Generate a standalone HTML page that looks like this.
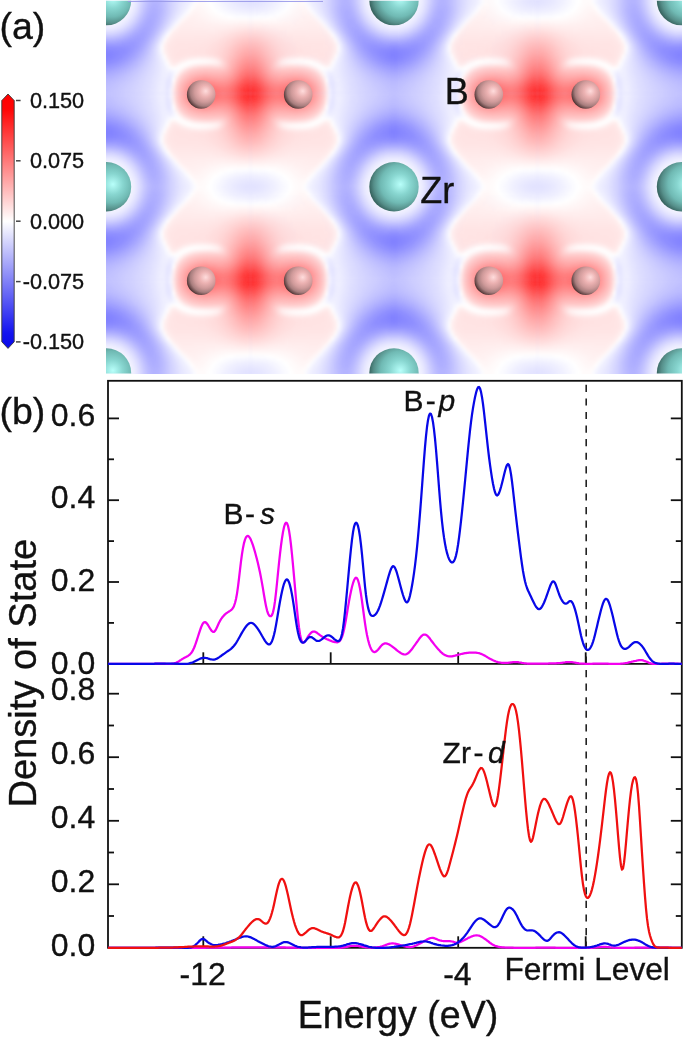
<!DOCTYPE html>
<html lang="en"><head><meta charset="utf-8"><title>Figure</title>
<style>
html,body{margin:0;padding:0;background:#fff;}
body{width:685px;height:1041px;overflow:hidden;font-family:"Liberation Sans", Arial, Helvetica, sans-serif;}
svg{display:block;}
text{font-family:"Liberation Sans", Arial, Helvetica, sans-serif;fill:#111;stroke:#111;stroke-width:0.35px;}
</style></head><body>
<svg width="685" height="1041" viewBox="0 0 685 1041">
<defs>
<clipPath id="hm"><rect x="106" y="0.8" width="576" height="372.6"/></clipPath>
<filter id="b15" x="-5%" y="-5%" width="110%" height="110%"><feGaussianBlur stdDeviation="1.4"/></filter>
<filter id="b2" x="-30%" y="-30%" width="160%" height="160%"><feGaussianBlur stdDeviation="2"/></filter>
<filter id="b3" x="-30%" y="-30%" width="160%" height="160%"><feGaussianBlur stdDeviation="3"/></filter>
<filter id="b4" x="-30%" y="-30%" width="160%" height="160%"><feGaussianBlur stdDeviation="4"/></filter>
<filter id="b6" x="-30%" y="-30%" width="160%" height="160%"><feGaussianBlur stdDeviation="6"/></filter>
<filter id="b8" x="-40%" y="-40%" width="180%" height="180%"><feGaussianBlur stdDeviation="8"/></filter>
<filter id="b10" x="-50%" y="-50%" width="200%" height="200%"><feGaussianBlur stdDeviation="10"/></filter>
<filter id="b14" x="-50%" y="-50%" width="200%" height="200%"><feGaussianBlur stdDeviation="14"/></filter>
<radialGradient id="gZr" cx="0.60" cy="0.44" r="0.66" fx="0.63" fy="0.45">
<stop offset="0" stop-color="#b8fffa"/><stop offset="0.32" stop-color="#88d6d0"/><stop offset="0.58" stop-color="#70bab4"/><stop offset="0.78" stop-color="#568f8a"/><stop offset="0.92" stop-color="#37635f"/><stop offset="1" stop-color="#1e3c39"/>
</radialGradient>
<radialGradient id="gB" cx="0.62" cy="0.40" r="0.68" fx="0.66" fy="0.38">
<stop offset="0" stop-color="#ffdcdc"/><stop offset="0.3" stop-color="#ecb2b2"/><stop offset="0.55" stop-color="#cf9a9a"/><stop offset="0.75" stop-color="#a87e7e"/><stop offset="0.9" stop-color="#664848"/><stop offset="1" stop-color="#2a1818"/>
</radialGradient>
<linearGradient id="cb" x1="0" y1="0" x2="0" y2="1">
<stop offset="0" stop-color="#ff0000"/><stop offset="0.06" stop-color="#ff0606"/><stop offset="0.5" stop-color="#ffffff"/><stop offset="0.94" stop-color="#1414f0"/><stop offset="1" stop-color="#0a0ae6"/>
</linearGradient>
</defs>
<rect width="685" height="1041" fill="#fff"/>

<g clip-path="url(#hm)">
<defs><g id="q">
<rect x="0" y="0" width="3.6" height="3.6" fill="#ff2f2f"/>
<rect x="3" y="0" width="3.6" height="3.6" fill="#ff3434"/>
<rect x="6" y="0" width="3.6" height="3.6" fill="#ff3d3d"/>
<rect x="9" y="0" width="3.6" height="3.6" fill="#ff4949"/>
<rect x="12" y="0" width="3.6" height="3.6" fill="#ff5757"/>
<rect x="15" y="0" width="3.6" height="3.6" fill="#ff6464"/>
<rect x="18" y="0" width="3.6" height="3.6" fill="#ff6e6e"/>
<rect x="21" y="0" width="3.6" height="3.6" fill="#ff7575"/>
<rect x="24" y="0" width="6.6" height="3.6" fill="#ff7979"/>
<rect x="30" y="0" width="3.6" height="3.6" fill="#ff7676"/>
<rect x="33" y="0" width="3.6" height="3.6" fill="#ff7171"/>
<rect x="36" y="0" width="3.6" height="3.6" fill="#ff6c6c"/>
<rect x="39" y="0" width="3.6" height="3.6" fill="#ff6767"/>
<rect x="42" y="0" width="3.6" height="3.6" fill="#ff6464"/>
<rect x="45" y="0" width="3.6" height="3.6" fill="#ff6363"/>
<rect x="48" y="0" width="3.6" height="3.6" fill="#ff6666"/>
<rect x="51" y="0" width="3.6" height="3.6" fill="#ff6c6c"/>
<rect x="54" y="0" width="3.6" height="3.6" fill="#ff7676"/>
<rect x="57" y="0" width="3.6" height="3.6" fill="#ff8282"/>
<rect x="60" y="0" width="3.6" height="3.6" fill="#ff9090"/>
<rect x="63" y="0" width="3.6" height="3.6" fill="#ff9f9f"/>
<rect x="66" y="0" width="3.6" height="3.6" fill="#ffadad"/>
<rect x="69" y="0" width="3.6" height="3.6" fill="#ffbbbb"/>
<rect x="72" y="0" width="3.6" height="3.6" fill="#ffcdcd"/>
<rect x="75" y="0" width="3.6" height="3.6" fill="#ffe8e8"/>
<rect x="78" y="0" width="3.6" height="3.6" fill="#f4f4ff"/>
<rect x="81" y="0" width="3.6" height="3.6" fill="#e6e6ff"/>
<rect x="84" y="0" width="3.6" height="3.6" fill="#ededff"/>
<rect x="87" y="0" width="3.6" height="3.6" fill="#efefff"/>
<rect x="90" y="0" width="3.6" height="3.6" fill="#ececff"/>
<rect x="93" y="0" width="3.6" height="3.6" fill="#e8e8ff"/>
<rect x="96" y="0" width="3.6" height="3.6" fill="#e4e4ff"/>
<rect x="99" y="0" width="3.6" height="3.6" fill="#e1e1ff"/>
<rect x="102" y="0" width="3.6" height="3.6" fill="#dedeff"/>
<rect x="105" y="0" width="3.6" height="3.6" fill="#dbdbff"/>
<rect x="108" y="0" width="3.6" height="3.6" fill="#d8d8ff"/>
<rect x="111" y="0" width="3.6" height="3.6" fill="#d6d6ff"/>
<rect x="114" y="0" width="3.6" height="3.6" fill="#d3d3ff"/>
<rect x="117" y="0" width="3.6" height="3.6" fill="#d1d1ff"/>
<rect x="120" y="0" width="3.6" height="3.6" fill="#cfcfff"/>
<rect x="123" y="0" width="3.6" height="3.6" fill="#cdcdff"/>
<rect x="126" y="0" width="3.6" height="3.6" fill="#cbcbff"/>
<rect x="129" y="0" width="3.6" height="3.6" fill="#c8c8ff"/>
<rect x="132" y="0" width="3.6" height="3.6" fill="#c6c6ff"/>
<rect x="135" y="0" width="3.6" height="3.6" fill="#c4c4ff"/>
<rect x="138" y="0" width="3.6" height="3.6" fill="#c3c3ff"/>
<rect x="141" y="0" width="6.6" height="3.6" fill="#c1c1ff"/>
<rect x="0" y="3" width="3.6" height="3.6" fill="#ff3333"/>
<rect x="3" y="3" width="3.6" height="3.6" fill="#ff3838"/>
<rect x="6" y="3" width="3.6" height="3.6" fill="#ff4141"/>
<rect x="9" y="3" width="3.6" height="3.6" fill="#ff4d4d"/>
<rect x="12" y="3" width="3.6" height="3.6" fill="#ff5b5b"/>
<rect x="15" y="3" width="3.6" height="3.6" fill="#ff6868"/>
<rect x="18" y="3" width="3.6" height="3.6" fill="#ff7272"/>
<rect x="21" y="3" width="3.6" height="3.6" fill="#ff7979"/>
<rect x="24" y="3" width="6.6" height="3.6" fill="#ff7d7d"/>
<rect x="30" y="3" width="3.6" height="3.6" fill="#ff7b7b"/>
<rect x="33" y="3" width="3.6" height="3.6" fill="#ff7676"/>
<rect x="36" y="3" width="3.6" height="3.6" fill="#ff7171"/>
<rect x="39" y="3" width="3.6" height="3.6" fill="#ff6c6c"/>
<rect x="42" y="3" width="3.6" height="3.6" fill="#ff6969"/>
<rect x="45" y="3" width="3.6" height="3.6" fill="#ff6868"/>
<rect x="48" y="3" width="3.6" height="3.6" fill="#ff6b6b"/>
<rect x="51" y="3" width="3.6" height="3.6" fill="#ff7171"/>
<rect x="54" y="3" width="3.6" height="3.6" fill="#ff7a7a"/>
<rect x="57" y="3" width="3.6" height="3.6" fill="#ff8686"/>
<rect x="60" y="3" width="3.6" height="3.6" fill="#ff9393"/>
<rect x="63" y="3" width="3.6" height="3.6" fill="#ffa1a1"/>
<rect x="66" y="3" width="3.6" height="3.6" fill="#ffafaf"/>
<rect x="69" y="3" width="3.6" height="3.6" fill="#ffbdbd"/>
<rect x="72" y="3" width="3.6" height="3.6" fill="#ffcece"/>
<rect x="75" y="3" width="3.6" height="3.6" fill="#ffeaea"/>
<rect x="78" y="3" width="3.6" height="3.6" fill="#f0f0ff"/>
<rect x="81" y="3" width="3.6" height="3.6" fill="#e5e5ff"/>
<rect x="84" y="3" width="3.6" height="3.6" fill="#ececff"/>
<rect x="87" y="3" width="3.6" height="3.6" fill="#efefff"/>
<rect x="90" y="3" width="3.6" height="3.6" fill="#ebebff"/>
<rect x="93" y="3" width="3.6" height="3.6" fill="#e7e7ff"/>
<rect x="96" y="3" width="3.6" height="3.6" fill="#e3e3ff"/>
<rect x="99" y="3" width="3.6" height="3.6" fill="#e0e0ff"/>
<rect x="102" y="3" width="3.6" height="3.6" fill="#ddddff"/>
<rect x="105" y="3" width="3.6" height="3.6" fill="#dadaff"/>
<rect x="108" y="3" width="3.6" height="3.6" fill="#d8d8ff"/>
<rect x="111" y="3" width="3.6" height="3.6" fill="#d5d5ff"/>
<rect x="114" y="3" width="3.6" height="3.6" fill="#d3d3ff"/>
<rect x="117" y="3" width="3.6" height="3.6" fill="#d0d0ff"/>
<rect x="120" y="3" width="3.6" height="3.6" fill="#ceceff"/>
<rect x="123" y="3" width="3.6" height="3.6" fill="#ccccff"/>
<rect x="126" y="3" width="3.6" height="3.6" fill="#c9c9ff"/>
<rect x="129" y="3" width="3.6" height="3.6" fill="#c7c7ff"/>
<rect x="132" y="3" width="3.6" height="3.6" fill="#c5c5ff"/>
<rect x="135" y="3" width="3.6" height="3.6" fill="#c3c3ff"/>
<rect x="138" y="3" width="3.6" height="3.6" fill="#c1c1ff"/>
<rect x="141" y="3" width="3.6" height="3.6" fill="#bfbfff"/>
<rect x="144" y="3" width="3.6" height="3.6" fill="#c0c0ff"/>
<rect x="0" y="6" width="3.6" height="3.6" fill="#ff3c3c"/>
<rect x="3" y="6" width="3.6" height="3.6" fill="#ff4141"/>
<rect x="6" y="6" width="3.6" height="3.6" fill="#ff4a4a"/>
<rect x="9" y="6" width="3.6" height="3.6" fill="#ff5656"/>
<rect x="12" y="6" width="3.6" height="3.6" fill="#ff6363"/>
<rect x="15" y="6" width="3.6" height="3.6" fill="#ff6f6f"/>
<rect x="18" y="6" width="3.6" height="3.6" fill="#ff7a7a"/>
<rect x="21" y="6" width="3.6" height="3.6" fill="#ff8181"/>
<rect x="24" y="6" width="3.6" height="3.6" fill="#ff8585"/>
<rect x="27" y="6" width="3.6" height="3.6" fill="#ff8686"/>
<rect x="30" y="6" width="3.6" height="3.6" fill="#ff8484"/>
<rect x="33" y="6" width="3.6" height="3.6" fill="#ff8080"/>
<rect x="36" y="6" width="3.6" height="3.6" fill="#ff7b7b"/>
<rect x="39" y="6" width="3.6" height="3.6" fill="#ff7777"/>
<rect x="42" y="6" width="3.6" height="3.6" fill="#ff7474"/>
<rect x="45" y="6" width="3.6" height="3.6" fill="#ff7373"/>
<rect x="48" y="6" width="3.6" height="3.6" fill="#ff7676"/>
<rect x="51" y="6" width="3.6" height="3.6" fill="#ff7b7b"/>
<rect x="54" y="6" width="3.6" height="3.6" fill="#ff8383"/>
<rect x="57" y="6" width="3.6" height="3.6" fill="#ff8e8e"/>
<rect x="60" y="6" width="3.6" height="3.6" fill="#ff9a9a"/>
<rect x="63" y="6" width="3.6" height="3.6" fill="#ffa6a6"/>
<rect x="66" y="6" width="3.6" height="3.6" fill="#ffb3b3"/>
<rect x="69" y="6" width="3.6" height="3.6" fill="#ffc0c0"/>
<rect x="72" y="6" width="3.6" height="3.6" fill="#ffd2d2"/>
<rect x="75" y="6" width="3.6" height="3.6" fill="#ffefef"/>
<rect x="78" y="6" width="3.6" height="3.6" fill="#ececff"/>
<rect x="81" y="6" width="3.6" height="3.6" fill="#e4e4ff"/>
<rect x="84" y="6" width="3.6" height="3.6" fill="#ececff"/>
<rect x="87" y="6" width="3.6" height="3.6" fill="#eeeeff"/>
<rect x="90" y="6" width="3.6" height="3.6" fill="#ebebff"/>
<rect x="93" y="6" width="3.6" height="3.6" fill="#e6e6ff"/>
<rect x="96" y="6" width="3.6" height="3.6" fill="#e3e3ff"/>
<rect x="99" y="6" width="3.6" height="3.6" fill="#dfdfff"/>
<rect x="102" y="6" width="3.6" height="3.6" fill="#dcdcff"/>
<rect x="105" y="6" width="3.6" height="3.6" fill="#dadaff"/>
<rect x="108" y="6" width="3.6" height="3.6" fill="#d7d7ff"/>
<rect x="111" y="6" width="3.6" height="3.6" fill="#d4d4ff"/>
<rect x="114" y="6" width="3.6" height="3.6" fill="#d2d2ff"/>
<rect x="117" y="6" width="3.6" height="3.6" fill="#cfcfff"/>
<rect x="120" y="6" width="3.6" height="3.6" fill="#cdcdff"/>
<rect x="123" y="6" width="3.6" height="3.6" fill="#cacaff"/>
<rect x="126" y="6" width="3.6" height="3.6" fill="#c8c8ff"/>
<rect x="129" y="6" width="3.6" height="3.6" fill="#c6c6ff"/>
<rect x="132" y="6" width="3.6" height="3.6" fill="#c3c3ff"/>
<rect x="135" y="6" width="3.6" height="3.6" fill="#c1c1ff"/>
<rect x="138" y="6" width="3.6" height="3.6" fill="#bfbfff"/>
<rect x="141" y="6" width="6.6" height="3.6" fill="#bebeff"/>
<rect x="0" y="9" width="3.6" height="3.6" fill="#ff4848"/>
<rect x="3" y="9" width="3.6" height="3.6" fill="#ff4d4d"/>
<rect x="6" y="9" width="3.6" height="3.6" fill="#ff5555"/>
<rect x="9" y="9" width="3.6" height="3.6" fill="#ff6161"/>
<rect x="12" y="9" width="3.6" height="3.6" fill="#ff6e6e"/>
<rect x="15" y="9" width="3.6" height="3.6" fill="#ff7a7a"/>
<rect x="18" y="9" width="3.6" height="3.6" fill="#ff8484"/>
<rect x="21" y="9" width="3.6" height="3.6" fill="#ff8b8b"/>
<rect x="24" y="9" width="3.6" height="3.6" fill="#ff9090"/>
<rect x="27" y="9" width="3.6" height="3.6" fill="#ff9191"/>
<rect x="30" y="9" width="3.6" height="3.6" fill="#ff9090"/>
<rect x="33" y="9" width="3.6" height="3.6" fill="#ff8d8d"/>
<rect x="36" y="9" width="3.6" height="3.6" fill="#ff8989"/>
<rect x="39" y="9" width="3.6" height="3.6" fill="#ff8585"/>
<rect x="42" y="9" width="6.6" height="3.6" fill="#ff8282"/>
<rect x="48" y="9" width="3.6" height="3.6" fill="#ff8484"/>
<rect x="51" y="9" width="3.6" height="3.6" fill="#ff8989"/>
<rect x="54" y="9" width="3.6" height="3.6" fill="#ff9090"/>
<rect x="57" y="9" width="3.6" height="3.6" fill="#ff9999"/>
<rect x="60" y="9" width="3.6" height="3.6" fill="#ffa3a3"/>
<rect x="63" y="9" width="3.6" height="3.6" fill="#ffaeae"/>
<rect x="66" y="9" width="3.6" height="3.6" fill="#ffb9b9"/>
<rect x="69" y="9" width="3.6" height="3.6" fill="#ffc6c6"/>
<rect x="72" y="9" width="3.6" height="3.6" fill="#ffd8d8"/>
<rect x="75" y="9" width="3.6" height="3.6" fill="#fff6f6"/>
<rect x="78" y="9" width="3.6" height="3.6" fill="#e9e9ff"/>
<rect x="81" y="9" width="3.6" height="3.6" fill="#e4e4ff"/>
<rect x="84" y="9" width="3.6" height="3.6" fill="#ececff"/>
<rect x="87" y="9" width="3.6" height="3.6" fill="#ededff"/>
<rect x="90" y="9" width="3.6" height="3.6" fill="#eaeaff"/>
<rect x="93" y="9" width="3.6" height="3.6" fill="#e6e6ff"/>
<rect x="96" y="9" width="3.6" height="3.6" fill="#e2e2ff"/>
<rect x="99" y="9" width="3.6" height="3.6" fill="#dfdfff"/>
<rect x="102" y="9" width="3.6" height="3.6" fill="#dcdcff"/>
<rect x="105" y="9" width="3.6" height="3.6" fill="#d9d9ff"/>
<rect x="108" y="9" width="3.6" height="3.6" fill="#d6d6ff"/>
<rect x="111" y="9" width="3.6" height="3.6" fill="#d3d3ff"/>
<rect x="114" y="9" width="3.6" height="3.6" fill="#d0d0ff"/>
<rect x="117" y="9" width="3.6" height="3.6" fill="#ceceff"/>
<rect x="120" y="9" width="3.6" height="3.6" fill="#cbcbff"/>
<rect x="123" y="9" width="3.6" height="3.6" fill="#c8c8ff"/>
<rect x="126" y="9" width="3.6" height="3.6" fill="#c6c6ff"/>
<rect x="129" y="9" width="3.6" height="3.6" fill="#c3c3ff"/>
<rect x="132" y="9" width="3.6" height="3.6" fill="#c1c1ff"/>
<rect x="135" y="9" width="3.6" height="3.6" fill="#bfbfff"/>
<rect x="138" y="9" width="3.6" height="3.6" fill="#bdbdff"/>
<rect x="141" y="9" width="6.6" height="3.6" fill="#bbbbff"/>
<rect x="0" y="12" width="3.6" height="3.6" fill="#ff5555"/>
<rect x="3" y="12" width="3.6" height="3.6" fill="#ff5959"/>
<rect x="6" y="12" width="3.6" height="3.6" fill="#ff6262"/>
<rect x="9" y="12" width="3.6" height="3.6" fill="#ff6d6d"/>
<rect x="12" y="12" width="3.6" height="3.6" fill="#ff7979"/>
<rect x="15" y="12" width="3.6" height="3.6" fill="#ff8585"/>
<rect x="18" y="12" width="3.6" height="3.6" fill="#ff8f8f"/>
<rect x="21" y="12" width="3.6" height="3.6" fill="#ff9797"/>
<rect x="24" y="12" width="3.6" height="3.6" fill="#ff9b9b"/>
<rect x="27" y="12" width="6.6" height="3.6" fill="#ff9d9d"/>
<rect x="33" y="12" width="3.6" height="3.6" fill="#ff9b9b"/>
<rect x="36" y="12" width="3.6" height="3.6" fill="#ff9898"/>
<rect x="39" y="12" width="3.6" height="3.6" fill="#ff9595"/>
<rect x="42" y="12" width="6.6" height="3.6" fill="#ff9393"/>
<rect x="48" y="12" width="3.6" height="3.6" fill="#ff9494"/>
<rect x="51" y="12" width="3.6" height="3.6" fill="#ff9898"/>
<rect x="54" y="12" width="3.6" height="3.6" fill="#ff9e9e"/>
<rect x="57" y="12" width="3.6" height="3.6" fill="#ffa5a5"/>
<rect x="60" y="12" width="3.6" height="3.6" fill="#ffaeae"/>
<rect x="63" y="12" width="3.6" height="3.6" fill="#ffb7b7"/>
<rect x="66" y="12" width="3.6" height="3.6" fill="#ffc1c1"/>
<rect x="69" y="12" width="3.6" height="3.6" fill="#ffcdcd"/>
<rect x="72" y="12" width="3.6" height="3.6" fill="#ffe1e1"/>
<rect x="75" y="12" width="3.6" height="3.6" fill="#fffefe"/>
<rect x="78" y="12" width="6.6" height="3.6" fill="#e6e6ff"/>
<rect x="84" y="12" width="6.6" height="3.6" fill="#ededff"/>
<rect x="90" y="12" width="3.6" height="3.6" fill="#e9e9ff"/>
<rect x="93" y="12" width="3.6" height="3.6" fill="#e5e5ff"/>
<rect x="96" y="12" width="3.6" height="3.6" fill="#e1e1ff"/>
<rect x="99" y="12" width="3.6" height="3.6" fill="#dedeff"/>
<rect x="102" y="12" width="3.6" height="3.6" fill="#dbdbff"/>
<rect x="105" y="12" width="3.6" height="3.6" fill="#d8d8ff"/>
<rect x="108" y="12" width="3.6" height="3.6" fill="#d5d5ff"/>
<rect x="111" y="12" width="3.6" height="3.6" fill="#d2d2ff"/>
<rect x="114" y="12" width="3.6" height="3.6" fill="#ceceff"/>
<rect x="117" y="12" width="3.6" height="3.6" fill="#cbcbff"/>
<rect x="120" y="12" width="3.6" height="3.6" fill="#c8c8ff"/>
<rect x="123" y="12" width="3.6" height="3.6" fill="#c5c5ff"/>
<rect x="126" y="12" width="3.6" height="3.6" fill="#c2c2ff"/>
<rect x="129" y="12" width="3.6" height="3.6" fill="#c0c0ff"/>
<rect x="132" y="12" width="3.6" height="3.6" fill="#bdbdff"/>
<rect x="135" y="12" width="3.6" height="3.6" fill="#bbbbff"/>
<rect x="138" y="12" width="3.6" height="3.6" fill="#b9b9ff"/>
<rect x="141" y="12" width="6.6" height="3.6" fill="#b7b7ff"/>
<rect x="0" y="15" width="3.6" height="3.6" fill="#ff6161"/>
<rect x="3" y="15" width="3.6" height="3.6" fill="#ff6666"/>
<rect x="6" y="15" width="3.6" height="3.6" fill="#ff6d6d"/>
<rect x="9" y="15" width="3.6" height="3.6" fill="#ff7878"/>
<rect x="12" y="15" width="3.6" height="3.6" fill="#ff8484"/>
<rect x="15" y="15" width="3.6" height="3.6" fill="#ff9090"/>
<rect x="18" y="15" width="3.6" height="3.6" fill="#ff9a9a"/>
<rect x="21" y="15" width="3.6" height="3.6" fill="#ffa1a1"/>
<rect x="24" y="15" width="3.6" height="3.6" fill="#ffa6a6"/>
<rect x="27" y="15" width="6.6" height="3.6" fill="#ffa9a9"/>
<rect x="33" y="15" width="3.6" height="3.6" fill="#ffa8a8"/>
<rect x="36" y="15" width="3.6" height="3.6" fill="#ffa7a7"/>
<rect x="39" y="15" width="3.6" height="3.6" fill="#ffa5a5"/>
<rect x="42" y="15" width="6.6" height="3.6" fill="#ffa3a3"/>
<rect x="48" y="15" width="3.6" height="3.6" fill="#ffa5a5"/>
<rect x="51" y="15" width="3.6" height="3.6" fill="#ffa8a8"/>
<rect x="54" y="15" width="3.6" height="3.6" fill="#ffacac"/>
<rect x="57" y="15" width="3.6" height="3.6" fill="#ffb2b2"/>
<rect x="60" y="15" width="3.6" height="3.6" fill="#ffb9b9"/>
<rect x="63" y="15" width="3.6" height="3.6" fill="#ffc1c1"/>
<rect x="66" y="15" width="3.6" height="3.6" fill="#ffcaca"/>
<rect x="69" y="15" width="3.6" height="3.6" fill="#ffd7d7"/>
<rect x="72" y="15" width="3.6" height="3.6" fill="#ffeded"/>
<rect x="75" y="15" width="3.6" height="3.6" fill="#f8f8ff"/>
<rect x="78" y="15" width="3.6" height="3.6" fill="#e7e7ff"/>
<rect x="81" y="15" width="3.6" height="3.6" fill="#eaeaff"/>
<rect x="84" y="15" width="3.6" height="3.6" fill="#eeeeff"/>
<rect x="87" y="15" width="3.6" height="3.6" fill="#ececff"/>
<rect x="90" y="15" width="3.6" height="3.6" fill="#e8e8ff"/>
<rect x="93" y="15" width="3.6" height="3.6" fill="#e4e4ff"/>
<rect x="96" y="15" width="3.6" height="3.6" fill="#e1e1ff"/>
<rect x="99" y="15" width="3.6" height="3.6" fill="#ddddff"/>
<rect x="102" y="15" width="3.6" height="3.6" fill="#dadaff"/>
<rect x="105" y="15" width="3.6" height="3.6" fill="#d6d6ff"/>
<rect x="108" y="15" width="3.6" height="3.6" fill="#d3d3ff"/>
<rect x="111" y="15" width="3.6" height="3.6" fill="#cfcfff"/>
<rect x="114" y="15" width="3.6" height="3.6" fill="#ccccff"/>
<rect x="117" y="15" width="3.6" height="3.6" fill="#c8c8ff"/>
<rect x="120" y="15" width="3.6" height="3.6" fill="#c5c5ff"/>
<rect x="123" y="15" width="3.6" height="3.6" fill="#c1c1ff"/>
<rect x="126" y="15" width="3.6" height="3.6" fill="#bebeff"/>
<rect x="129" y="15" width="3.6" height="3.6" fill="#bbbbff"/>
<rect x="132" y="15" width="3.6" height="3.6" fill="#b8b8ff"/>
<rect x="135" y="15" width="3.6" height="3.6" fill="#b6b6ff"/>
<rect x="138" y="15" width="3.6" height="3.6" fill="#b3b3ff"/>
<rect x="141" y="15" width="3.6" height="3.6" fill="#b1b1ff"/>
<rect x="144" y="15" width="3.6" height="3.6" fill="#b2b2ff"/>
<rect x="0" y="18" width="3.6" height="3.6" fill="#ff6d6d"/>
<rect x="3" y="18" width="3.6" height="3.6" fill="#ff7171"/>
<rect x="6" y="18" width="3.6" height="3.6" fill="#ff7878"/>
<rect x="9" y="18" width="3.6" height="3.6" fill="#ff8282"/>
<rect x="12" y="18" width="3.6" height="3.6" fill="#ff8e8e"/>
<rect x="15" y="18" width="3.6" height="3.6" fill="#ff9999"/>
<rect x="18" y="18" width="3.6" height="3.6" fill="#ffa4a4"/>
<rect x="21" y="18" width="3.6" height="3.6" fill="#ffacac"/>
<rect x="24" y="18" width="3.6" height="3.6" fill="#ffb1b1"/>
<rect x="27" y="18" width="3.6" height="3.6" fill="#ffb4b4"/>
<rect x="30" y="18" width="6.6" height="3.6" fill="#ffb5b5"/>
<rect x="36" y="18" width="3.6" height="3.6" fill="#ffb4b4"/>
<rect x="39" y="18" width="3.6" height="3.6" fill="#ffb3b3"/>
<rect x="42" y="18" width="6.6" height="3.6" fill="#ffb2b2"/>
<rect x="48" y="18" width="3.6" height="3.6" fill="#ffb4b4"/>
<rect x="51" y="18" width="3.6" height="3.6" fill="#ffb6b6"/>
<rect x="54" y="18" width="3.6" height="3.6" fill="#ffbaba"/>
<rect x="57" y="18" width="3.6" height="3.6" fill="#ffbebe"/>
<rect x="60" y="18" width="3.6" height="3.6" fill="#ffc4c4"/>
<rect x="63" y="18" width="3.6" height="3.6" fill="#ffcbcb"/>
<rect x="66" y="18" width="3.6" height="3.6" fill="#ffd5d5"/>
<rect x="69" y="18" width="3.6" height="3.6" fill="#ffe5e5"/>
<rect x="72" y="18" width="3.6" height="3.6" fill="#fffafa"/>
<rect x="75" y="18" width="3.6" height="3.6" fill="#f4f4ff"/>
<rect x="78" y="18" width="3.6" height="3.6" fill="#ebebff"/>
<rect x="81" y="18" width="3.6" height="3.6" fill="#eeeeff"/>
<rect x="84" y="18" width="3.6" height="3.6" fill="#efefff"/>
<rect x="87" y="18" width="3.6" height="3.6" fill="#ececff"/>
<rect x="90" y="18" width="3.6" height="3.6" fill="#e7e7ff"/>
<rect x="93" y="18" width="3.6" height="3.6" fill="#e3e3ff"/>
<rect x="96" y="18" width="3.6" height="3.6" fill="#dfdfff"/>
<rect x="99" y="18" width="3.6" height="3.6" fill="#dcdcff"/>
<rect x="102" y="18" width="3.6" height="3.6" fill="#d8d8ff"/>
<rect x="105" y="18" width="3.6" height="3.6" fill="#d4d4ff"/>
<rect x="108" y="18" width="3.6" height="3.6" fill="#d0d0ff"/>
<rect x="111" y="18" width="3.6" height="3.6" fill="#ccccff"/>
<rect x="114" y="18" width="3.6" height="3.6" fill="#c8c8ff"/>
<rect x="117" y="18" width="3.6" height="3.6" fill="#c4c4ff"/>
<rect x="120" y="18" width="3.6" height="3.6" fill="#c0c0ff"/>
<rect x="123" y="18" width="3.6" height="3.6" fill="#bcbcff"/>
<rect x="126" y="18" width="3.6" height="3.6" fill="#b9b9ff"/>
<rect x="129" y="18" width="3.6" height="3.6" fill="#b5b5ff"/>
<rect x="132" y="18" width="3.6" height="3.6" fill="#b2b2ff"/>
<rect x="135" y="18" width="3.6" height="3.6" fill="#afafff"/>
<rect x="138" y="18" width="3.6" height="3.6" fill="#adadff"/>
<rect x="141" y="18" width="6.6" height="3.6" fill="#ababff"/>
<rect x="0" y="21" width="3.6" height="3.6" fill="#ff7777"/>
<rect x="3" y="21" width="3.6" height="3.6" fill="#ff7b7b"/>
<rect x="6" y="21" width="3.6" height="3.6" fill="#ff8282"/>
<rect x="9" y="21" width="3.6" height="3.6" fill="#ff8b8b"/>
<rect x="12" y="21" width="3.6" height="3.6" fill="#ff9696"/>
<rect x="15" y="21" width="3.6" height="3.6" fill="#ffa1a1"/>
<rect x="18" y="21" width="3.6" height="3.6" fill="#ffacac"/>
<rect x="21" y="21" width="3.6" height="3.6" fill="#ffb5b5"/>
<rect x="24" y="21" width="3.6" height="3.6" fill="#ffbcbc"/>
<rect x="27" y="21" width="3.6" height="3.6" fill="#ffbfbf"/>
<rect x="30" y="21" width="12.6" height="3.6" fill="#ffc0c0"/>
<rect x="42" y="21" width="3.6" height="3.6" fill="#ffbfbf"/>
<rect x="45" y="21" width="3.6" height="3.6" fill="#ffc0c0"/>
<rect x="48" y="21" width="3.6" height="3.6" fill="#ffc1c1"/>
<rect x="51" y="21" width="3.6" height="3.6" fill="#ffc3c3"/>
<rect x="54" y="21" width="3.6" height="3.6" fill="#ffc6c6"/>
<rect x="57" y="21" width="3.6" height="3.6" fill="#ffcaca"/>
<rect x="60" y="21" width="3.6" height="3.6" fill="#ffd0d0"/>
<rect x="63" y="21" width="3.6" height="3.6" fill="#ffd9d9"/>
<rect x="66" y="21" width="3.6" height="3.6" fill="#ffe6e6"/>
<rect x="69" y="21" width="3.6" height="3.6" fill="#fff6f6"/>
<rect x="72" y="21" width="3.6" height="3.6" fill="#fbfbff"/>
<rect x="75" y="21" width="3.6" height="3.6" fill="#f7f7ff"/>
<rect x="78" y="21" width="6.6" height="3.6" fill="#f2f2ff"/>
<rect x="84" y="21" width="3.6" height="3.6" fill="#efefff"/>
<rect x="87" y="21" width="3.6" height="3.6" fill="#ebebff"/>
<rect x="90" y="21" width="3.6" height="3.6" fill="#e6e6ff"/>
<rect x="93" y="21" width="3.6" height="3.6" fill="#e2e2ff"/>
<rect x="96" y="21" width="3.6" height="3.6" fill="#dedeff"/>
<rect x="99" y="21" width="3.6" height="3.6" fill="#dadaff"/>
<rect x="102" y="21" width="3.6" height="3.6" fill="#d6d6ff"/>
<rect x="105" y="21" width="3.6" height="3.6" fill="#d1d1ff"/>
<rect x="108" y="21" width="3.6" height="3.6" fill="#cdcdff"/>
<rect x="111" y="21" width="3.6" height="3.6" fill="#c8c8ff"/>
<rect x="114" y="21" width="3.6" height="3.6" fill="#c4c4ff"/>
<rect x="117" y="21" width="3.6" height="3.6" fill="#bfbfff"/>
<rect x="120" y="21" width="3.6" height="3.6" fill="#bbbbff"/>
<rect x="123" y="21" width="3.6" height="3.6" fill="#b6b6ff"/>
<rect x="126" y="21" width="3.6" height="3.6" fill="#b2b2ff"/>
<rect x="129" y="21" width="3.6" height="3.6" fill="#aeaeff"/>
<rect x="132" y="21" width="3.6" height="3.6" fill="#ababff"/>
<rect x="135" y="21" width="3.6" height="3.6" fill="#a8a8ff"/>
<rect x="138" y="21" width="3.6" height="3.6" fill="#a6a6ff"/>
<rect x="141" y="21" width="3.6" height="3.6" fill="#a3a3ff"/>
<rect x="144" y="21" width="3.6" height="3.6" fill="#a4a4ff"/>
<rect x="0" y="24" width="3.6" height="3.6" fill="#ff8080"/>
<rect x="3" y="24" width="3.6" height="3.6" fill="#ff8383"/>
<rect x="6" y="24" width="3.6" height="3.6" fill="#ff8a8a"/>
<rect x="9" y="24" width="3.6" height="3.6" fill="#ff9393"/>
<rect x="12" y="24" width="3.6" height="3.6" fill="#ff9d9d"/>
<rect x="15" y="24" width="3.6" height="3.6" fill="#ffa7a7"/>
<rect x="18" y="24" width="3.6" height="3.6" fill="#ffb2b2"/>
<rect x="21" y="24" width="3.6" height="3.6" fill="#ffbebe"/>
<rect x="24" y="24" width="3.6" height="3.6" fill="#ffc8c8"/>
<rect x="27" y="24" width="3.6" height="3.6" fill="#ffcdcd"/>
<rect x="30" y="24" width="6.6" height="3.6" fill="#ffcfcf"/>
<rect x="36" y="24" width="12.6" height="3.6" fill="#ffcece"/>
<rect x="48" y="24" width="3.6" height="3.6" fill="#ffcfcf"/>
<rect x="51" y="24" width="3.6" height="3.6" fill="#ffd2d2"/>
<rect x="54" y="24" width="3.6" height="3.6" fill="#ffd5d5"/>
<rect x="57" y="24" width="3.6" height="3.6" fill="#ffdbdb"/>
<rect x="60" y="24" width="3.6" height="3.6" fill="#ffe3e3"/>
<rect x="63" y="24" width="3.6" height="3.6" fill="#ffeded"/>
<rect x="66" y="24" width="3.6" height="3.6" fill="#fff8f8"/>
<rect x="69" y="24" width="6.6" height="3.6" fill="#fefeff"/>
<rect x="75" y="24" width="3.6" height="3.6" fill="#fffcfc"/>
<rect x="78" y="24" width="3.6" height="3.6" fill="#fdfdff"/>
<rect x="81" y="24" width="3.6" height="3.6" fill="#f6f6ff"/>
<rect x="84" y="24" width="3.6" height="3.6" fill="#f0f0ff"/>
<rect x="87" y="24" width="3.6" height="3.6" fill="#ebebff"/>
<rect x="90" y="24" width="3.6" height="3.6" fill="#e6e6ff"/>
<rect x="93" y="24" width="3.6" height="3.6" fill="#e1e1ff"/>
<rect x="96" y="24" width="3.6" height="3.6" fill="#ddddff"/>
<rect x="99" y="24" width="3.6" height="3.6" fill="#d8d8ff"/>
<rect x="102" y="24" width="3.6" height="3.6" fill="#d3d3ff"/>
<rect x="105" y="24" width="3.6" height="3.6" fill="#ceceff"/>
<rect x="108" y="24" width="3.6" height="3.6" fill="#c9c9ff"/>
<rect x="111" y="24" width="3.6" height="3.6" fill="#c4c4ff"/>
<rect x="114" y="24" width="3.6" height="3.6" fill="#bebeff"/>
<rect x="117" y="24" width="3.6" height="3.6" fill="#b9b9ff"/>
<rect x="120" y="24" width="3.6" height="3.6" fill="#b4b4ff"/>
<rect x="123" y="24" width="3.6" height="3.6" fill="#afafff"/>
<rect x="126" y="24" width="3.6" height="3.6" fill="#ababff"/>
<rect x="129" y="24" width="3.6" height="3.6" fill="#a7a7ff"/>
<rect x="132" y="24" width="3.6" height="3.6" fill="#a3a3ff"/>
<rect x="135" y="24" width="3.6" height="3.6" fill="#a0a0ff"/>
<rect x="138" y="24" width="3.6" height="3.6" fill="#9d9dff"/>
<rect x="141" y="24" width="3.6" height="3.6" fill="#9b9bff"/>
<rect x="144" y="24" width="3.6" height="3.6" fill="#9c9cff"/>
<rect x="0" y="27" width="3.6" height="3.6" fill="#ff8989"/>
<rect x="3" y="27" width="3.6" height="3.6" fill="#ff8c8c"/>
<rect x="6" y="27" width="3.6" height="3.6" fill="#ff9292"/>
<rect x="9" y="27" width="3.6" height="3.6" fill="#ff9a9a"/>
<rect x="12" y="27" width="3.6" height="3.6" fill="#ffa3a3"/>
<rect x="15" y="27" width="3.6" height="3.6" fill="#ffadad"/>
<rect x="18" y="27" width="3.6" height="3.6" fill="#ffb7b7"/>
<rect x="21" y="27" width="3.6" height="3.6" fill="#ffc3c3"/>
<rect x="24" y="27" width="3.6" height="3.6" fill="#ffd0d0"/>
<rect x="27" y="27" width="3.6" height="3.6" fill="#ffdcdc"/>
<rect x="30" y="27" width="3.6" height="3.6" fill="#ffe3e3"/>
<rect x="33" y="27" width="3.6" height="3.6" fill="#ffe5e5"/>
<rect x="36" y="27" width="9.6" height="3.6" fill="#ffe4e4"/>
<rect x="45" y="27" width="3.6" height="3.6" fill="#ffe5e5"/>
<rect x="48" y="27" width="3.6" height="3.6" fill="#ffe7e7"/>
<rect x="51" y="27" width="3.6" height="3.6" fill="#ffe9e9"/>
<rect x="54" y="27" width="3.6" height="3.6" fill="#ffeded"/>
<rect x="57" y="27" width="3.6" height="3.6" fill="#fff3f3"/>
<rect x="60" y="27" width="3.6" height="3.6" fill="#fff9f9"/>
<rect x="63" y="27" width="3.6" height="3.6" fill="#fffefe"/>
<rect x="66" y="27" width="3.6" height="3.6" fill="#ffffff"/>
<rect x="69" y="27" width="3.6" height="3.6" fill="#fffbfb"/>
<rect x="72" y="27" width="3.6" height="3.6" fill="#fff3f3"/>
<rect x="75" y="27" width="3.6" height="3.6" fill="#ffefef"/>
<rect x="78" y="27" width="3.6" height="3.6" fill="#fff5f5"/>
<rect x="81" y="27" width="3.6" height="3.6" fill="#fbfbff"/>
<rect x="84" y="27" width="3.6" height="3.6" fill="#f2f2ff"/>
<rect x="87" y="27" width="3.6" height="3.6" fill="#ebebff"/>
<rect x="90" y="27" width="3.6" height="3.6" fill="#e6e6ff"/>
<rect x="93" y="27" width="3.6" height="3.6" fill="#e1e1ff"/>
<rect x="96" y="27" width="3.6" height="3.6" fill="#dbdbff"/>
<rect x="99" y="27" width="3.6" height="3.6" fill="#d6d6ff"/>
<rect x="102" y="27" width="3.6" height="3.6" fill="#d0d0ff"/>
<rect x="105" y="27" width="3.6" height="3.6" fill="#cacaff"/>
<rect x="108" y="27" width="3.6" height="3.6" fill="#c4c4ff"/>
<rect x="111" y="27" width="3.6" height="3.6" fill="#bebeff"/>
<rect x="114" y="27" width="3.6" height="3.6" fill="#b8b8ff"/>
<rect x="117" y="27" width="3.6" height="3.6" fill="#b3b3ff"/>
<rect x="120" y="27" width="3.6" height="3.6" fill="#adadff"/>
<rect x="123" y="27" width="3.6" height="3.6" fill="#a8a8ff"/>
<rect x="126" y="27" width="3.6" height="3.6" fill="#a3a3ff"/>
<rect x="129" y="27" width="3.6" height="3.6" fill="#9f9fff"/>
<rect x="132" y="27" width="3.6" height="3.6" fill="#9b9bff"/>
<rect x="135" y="27" width="3.6" height="3.6" fill="#9898ff"/>
<rect x="138" y="27" width="3.6" height="3.6" fill="#9595ff"/>
<rect x="141" y="27" width="6.6" height="3.6" fill="#9393ff"/>
<rect x="0" y="30" width="3.6" height="3.6" fill="#ff9191"/>
<rect x="3" y="30" width="3.6" height="3.6" fill="#ff9494"/>
<rect x="6" y="30" width="3.6" height="3.6" fill="#ff9999"/>
<rect x="9" y="30" width="3.6" height="3.6" fill="#ffa0a0"/>
<rect x="12" y="30" width="3.6" height="3.6" fill="#ffa9a9"/>
<rect x="15" y="30" width="3.6" height="3.6" fill="#ffb2b2"/>
<rect x="18" y="30" width="3.6" height="3.6" fill="#ffbaba"/>
<rect x="21" y="30" width="3.6" height="3.6" fill="#ffc4c4"/>
<rect x="24" y="30" width="3.6" height="3.6" fill="#ffd1d1"/>
<rect x="27" y="30" width="3.6" height="3.6" fill="#ffdfdf"/>
<rect x="30" y="30" width="3.6" height="3.6" fill="#ffecec"/>
<rect x="33" y="30" width="3.6" height="3.6" fill="#fff3f3"/>
<rect x="36" y="30" width="3.6" height="3.6" fill="#fff7f7"/>
<rect x="39" y="30" width="3.6" height="3.6" fill="#fff8f8"/>
<rect x="42" y="30" width="3.6" height="3.6" fill="#fffafa"/>
<rect x="45" y="30" width="3.6" height="3.6" fill="#fffbfb"/>
<rect x="48" y="30" width="3.6" height="3.6" fill="#fffcfc"/>
<rect x="51" y="30" width="3.6" height="3.6" fill="#fffdfd"/>
<rect x="54" y="30" width="9.6" height="3.6" fill="#fffefe"/>
<rect x="63" y="30" width="3.6" height="3.6" fill="#fffafa"/>
<rect x="66" y="30" width="3.6" height="3.6" fill="#fff4f4"/>
<rect x="69" y="30" width="3.6" height="3.6" fill="#ffeded"/>
<rect x="72" y="30" width="3.6" height="3.6" fill="#ffe8e8"/>
<rect x="75" y="30" width="3.6" height="3.6" fill="#ffe7e7"/>
<rect x="78" y="30" width="3.6" height="3.6" fill="#ffeded"/>
<rect x="81" y="30" width="3.6" height="3.6" fill="#fffdfd"/>
<rect x="84" y="30" width="3.6" height="3.6" fill="#f5f5ff"/>
<rect x="87" y="30" width="3.6" height="3.6" fill="#ededff"/>
<rect x="90" y="30" width="3.6" height="3.6" fill="#e6e6ff"/>
<rect x="93" y="30" width="3.6" height="3.6" fill="#e0e0ff"/>
<rect x="96" y="30" width="3.6" height="3.6" fill="#dadaff"/>
<rect x="99" y="30" width="3.6" height="3.6" fill="#d3d3ff"/>
<rect x="102" y="30" width="3.6" height="3.6" fill="#cdcdff"/>
<rect x="105" y="30" width="3.6" height="3.6" fill="#c6c6ff"/>
<rect x="108" y="30" width="3.6" height="3.6" fill="#bfbfff"/>
<rect x="111" y="30" width="3.6" height="3.6" fill="#b9b9ff"/>
<rect x="114" y="30" width="3.6" height="3.6" fill="#b2b2ff"/>
<rect x="117" y="30" width="3.6" height="3.6" fill="#acacff"/>
<rect x="120" y="30" width="3.6" height="3.6" fill="#a6a6ff"/>
<rect x="123" y="30" width="3.6" height="3.6" fill="#a0a0ff"/>
<rect x="126" y="30" width="3.6" height="3.6" fill="#9b9bff"/>
<rect x="129" y="30" width="3.6" height="3.6" fill="#9797ff"/>
<rect x="132" y="30" width="3.6" height="3.6" fill="#9393ff"/>
<rect x="135" y="30" width="3.6" height="3.6" fill="#9090ff"/>
<rect x="138" y="30" width="3.6" height="3.6" fill="#8d8dff"/>
<rect x="141" y="30" width="3.6" height="3.6" fill="#8b8bff"/>
<rect x="144" y="30" width="3.6" height="3.6" fill="#8c8cff"/>
<rect x="0" y="33" width="3.6" height="3.6" fill="#ff9999"/>
<rect x="3" y="33" width="3.6" height="3.6" fill="#ff9b9b"/>
<rect x="6" y="33" width="3.6" height="3.6" fill="#ffa0a0"/>
<rect x="9" y="33" width="3.6" height="3.6" fill="#ffa7a7"/>
<rect x="12" y="33" width="3.6" height="3.6" fill="#ffaeae"/>
<rect x="15" y="33" width="3.6" height="3.6" fill="#ffb6b6"/>
<rect x="18" y="33" width="3.6" height="3.6" fill="#ffbebe"/>
<rect x="21" y="33" width="3.6" height="3.6" fill="#ffc5c5"/>
<rect x="24" y="33" width="3.6" height="3.6" fill="#ffcece"/>
<rect x="27" y="33" width="3.6" height="3.6" fill="#ffd8d8"/>
<rect x="30" y="33" width="3.6" height="3.6" fill="#ffe2e2"/>
<rect x="33" y="33" width="3.6" height="3.6" fill="#ffeaea"/>
<rect x="36" y="33" width="3.6" height="3.6" fill="#ffefef"/>
<rect x="39" y="33" width="3.6" height="3.6" fill="#fff3f3"/>
<rect x="42" y="33" width="3.6" height="3.6" fill="#fff4f4"/>
<rect x="45" y="33" width="9.6" height="3.6" fill="#fff6f6"/>
<rect x="54" y="33" width="3.6" height="3.6" fill="#fff5f5"/>
<rect x="57" y="33" width="3.6" height="3.6" fill="#fff3f3"/>
<rect x="60" y="33" width="3.6" height="3.6" fill="#ffefef"/>
<rect x="63" y="33" width="3.6" height="3.6" fill="#ffebeb"/>
<rect x="66" y="33" width="3.6" height="3.6" fill="#ffe8e8"/>
<rect x="69" y="33" width="3.6" height="3.6" fill="#ffe5e5"/>
<rect x="72" y="33" width="3.6" height="3.6" fill="#ffe4e4"/>
<rect x="75" y="33" width="3.6" height="3.6" fill="#ffe5e5"/>
<rect x="78" y="33" width="3.6" height="3.6" fill="#ffe9e9"/>
<rect x="81" y="33" width="3.6" height="3.6" fill="#fff3f3"/>
<rect x="84" y="33" width="3.6" height="3.6" fill="#fafaff"/>
<rect x="87" y="33" width="3.6" height="3.6" fill="#efefff"/>
<rect x="90" y="33" width="3.6" height="3.6" fill="#e7e7ff"/>
<rect x="93" y="33" width="3.6" height="3.6" fill="#dfdfff"/>
<rect x="96" y="33" width="3.6" height="3.6" fill="#d8d8ff"/>
<rect x="99" y="33" width="3.6" height="3.6" fill="#d0d0ff"/>
<rect x="102" y="33" width="3.6" height="3.6" fill="#c9c9ff"/>
<rect x="105" y="33" width="3.6" height="3.6" fill="#c1c1ff"/>
<rect x="108" y="33" width="3.6" height="3.6" fill="#babaff"/>
<rect x="111" y="33" width="3.6" height="3.6" fill="#b2b2ff"/>
<rect x="114" y="33" width="3.6" height="3.6" fill="#ababff"/>
<rect x="117" y="33" width="3.6" height="3.6" fill="#a5a5ff"/>
<rect x="120" y="33" width="3.6" height="3.6" fill="#9f9fff"/>
<rect x="123" y="33" width="3.6" height="3.6" fill="#9999ff"/>
<rect x="126" y="33" width="3.6" height="3.6" fill="#9595ff"/>
<rect x="129" y="33" width="3.6" height="3.6" fill="#9191ff"/>
<rect x="132" y="33" width="3.6" height="3.6" fill="#8d8dff"/>
<rect x="135" y="33" width="3.6" height="3.6" fill="#8a8aff"/>
<rect x="138" y="33" width="3.6" height="3.6" fill="#8787ff"/>
<rect x="141" y="33" width="3.6" height="3.6" fill="#8585ff"/>
<rect x="144" y="33" width="3.6" height="3.6" fill="#8686ff"/>
<rect x="0" y="36" width="3.6" height="3.6" fill="#ffa0a0"/>
<rect x="3" y="36" width="3.6" height="3.6" fill="#ffa3a3"/>
<rect x="6" y="36" width="3.6" height="3.6" fill="#ffa7a7"/>
<rect x="9" y="36" width="3.6" height="3.6" fill="#ffadad"/>
<rect x="12" y="36" width="3.6" height="3.6" fill="#ffb4b4"/>
<rect x="15" y="36" width="3.6" height="3.6" fill="#ffbbbb"/>
<rect x="18" y="36" width="3.6" height="3.6" fill="#ffc2c2"/>
<rect x="21" y="36" width="3.6" height="3.6" fill="#ffc8c8"/>
<rect x="24" y="36" width="3.6" height="3.6" fill="#ffcece"/>
<rect x="27" y="36" width="3.6" height="3.6" fill="#ffd3d3"/>
<rect x="30" y="36" width="3.6" height="3.6" fill="#ffd9d9"/>
<rect x="33" y="36" width="3.6" height="3.6" fill="#ffdddd"/>
<rect x="36" y="36" width="3.6" height="3.6" fill="#ffe1e1"/>
<rect x="39" y="36" width="3.6" height="3.6" fill="#ffe3e3"/>
<rect x="42" y="36" width="3.6" height="3.6" fill="#ffe5e5"/>
<rect x="45" y="36" width="3.6" height="3.6" fill="#ffe6e6"/>
<rect x="48" y="36" width="6.6" height="3.6" fill="#ffe7e7"/>
<rect x="54" y="36" width="6.6" height="3.6" fill="#ffe6e6"/>
<rect x="60" y="36" width="3.6" height="3.6" fill="#ffe5e5"/>
<rect x="63" y="36" width="3.6" height="3.6" fill="#ffe4e4"/>
<rect x="66" y="36" width="9.6" height="3.6" fill="#ffe3e3"/>
<rect x="75" y="36" width="3.6" height="3.6" fill="#ffe4e4"/>
<rect x="78" y="36" width="3.6" height="3.6" fill="#ffe6e6"/>
<rect x="81" y="36" width="3.6" height="3.6" fill="#ffecec"/>
<rect x="84" y="36" width="3.6" height="3.6" fill="#fffcfc"/>
<rect x="87" y="36" width="3.6" height="3.6" fill="#f3f3ff"/>
<rect x="90" y="36" width="3.6" height="3.6" fill="#e8e8ff"/>
<rect x="93" y="36" width="3.6" height="3.6" fill="#dfdfff"/>
<rect x="96" y="36" width="3.6" height="3.6" fill="#d6d6ff"/>
<rect x="99" y="36" width="3.6" height="3.6" fill="#ceceff"/>
<rect x="102" y="36" width="3.6" height="3.6" fill="#c5c5ff"/>
<rect x="105" y="36" width="3.6" height="3.6" fill="#bcbcff"/>
<rect x="108" y="36" width="3.6" height="3.6" fill="#b4b4ff"/>
<rect x="111" y="36" width="3.6" height="3.6" fill="#acacff"/>
<rect x="114" y="36" width="3.6" height="3.6" fill="#a5a5ff"/>
<rect x="117" y="36" width="3.6" height="3.6" fill="#9f9fff"/>
<rect x="120" y="36" width="3.6" height="3.6" fill="#9999ff"/>
<rect x="123" y="36" width="3.6" height="3.6" fill="#9494ff"/>
<rect x="126" y="36" width="3.6" height="3.6" fill="#9090ff"/>
<rect x="129" y="36" width="3.6" height="3.6" fill="#8c8cff"/>
<rect x="132" y="36" width="3.6" height="3.6" fill="#8989ff"/>
<rect x="135" y="36" width="3.6" height="3.6" fill="#8686ff"/>
<rect x="138" y="36" width="3.6" height="3.6" fill="#8484ff"/>
<rect x="141" y="36" width="6.6" height="3.6" fill="#8282ff"/>
<rect x="0" y="39" width="3.6" height="3.6" fill="#ffa8a8"/>
<rect x="3" y="39" width="3.6" height="3.6" fill="#ffaaaa"/>
<rect x="6" y="39" width="3.6" height="3.6" fill="#ffadad"/>
<rect x="9" y="39" width="3.6" height="3.6" fill="#ffb3b3"/>
<rect x="12" y="39" width="3.6" height="3.6" fill="#ffb9b9"/>
<rect x="15" y="39" width="3.6" height="3.6" fill="#ffbfbf"/>
<rect x="18" y="39" width="3.6" height="3.6" fill="#ffc5c5"/>
<rect x="21" y="39" width="3.6" height="3.6" fill="#ffcbcb"/>
<rect x="24" y="39" width="3.6" height="3.6" fill="#ffd0d0"/>
<rect x="27" y="39" width="3.6" height="3.6" fill="#ffd4d4"/>
<rect x="30" y="39" width="3.6" height="3.6" fill="#ffd7d7"/>
<rect x="33" y="39" width="3.6" height="3.6" fill="#ffdada"/>
<rect x="36" y="39" width="3.6" height="3.6" fill="#ffdddd"/>
<rect x="39" y="39" width="3.6" height="3.6" fill="#ffdede"/>
<rect x="42" y="39" width="3.6" height="3.6" fill="#ffe0e0"/>
<rect x="45" y="39" width="6.6" height="3.6" fill="#ffe1e1"/>
<rect x="51" y="39" width="9.6" height="3.6" fill="#ffe2e2"/>
<rect x="60" y="39" width="15.6" height="3.6" fill="#ffe3e3"/>
<rect x="75" y="39" width="3.6" height="3.6" fill="#ffe4e4"/>
<rect x="78" y="39" width="3.6" height="3.6" fill="#ffe5e5"/>
<rect x="81" y="39" width="3.6" height="3.6" fill="#ffeaea"/>
<rect x="84" y="39" width="3.6" height="3.6" fill="#fff3f3"/>
<rect x="87" y="39" width="3.6" height="3.6" fill="#f7f7ff"/>
<rect x="90" y="39" width="3.6" height="3.6" fill="#eaeaff"/>
<rect x="93" y="39" width="3.6" height="3.6" fill="#dfdfff"/>
<rect x="96" y="39" width="3.6" height="3.6" fill="#d4d4ff"/>
<rect x="99" y="39" width="3.6" height="3.6" fill="#cacaff"/>
<rect x="102" y="39" width="3.6" height="3.6" fill="#c0c0ff"/>
<rect x="105" y="39" width="3.6" height="3.6" fill="#b7b7ff"/>
<rect x="108" y="39" width="3.6" height="3.6" fill="#afafff"/>
<rect x="111" y="39" width="3.6" height="3.6" fill="#a7a7ff"/>
<rect x="114" y="39" width="3.6" height="3.6" fill="#a0a0ff"/>
<rect x="117" y="39" width="3.6" height="3.6" fill="#9a9aff"/>
<rect x="120" y="39" width="3.6" height="3.6" fill="#9595ff"/>
<rect x="123" y="39" width="3.6" height="3.6" fill="#9090ff"/>
<rect x="126" y="39" width="3.6" height="3.6" fill="#8d8dff"/>
<rect x="129" y="39" width="3.6" height="3.6" fill="#8a8aff"/>
<rect x="132" y="39" width="3.6" height="3.6" fill="#8888ff"/>
<rect x="135" y="39" width="3.6" height="3.6" fill="#8686ff"/>
<rect x="138" y="39" width="3.6" height="3.6" fill="#8484ff"/>
<rect x="141" y="39" width="3.6" height="3.6" fill="#8282ff"/>
<rect x="144" y="39" width="3.6" height="3.6" fill="#8383ff"/>
<rect x="0" y="42" width="3.6" height="3.6" fill="#ffaeae"/>
<rect x="3" y="42" width="3.6" height="3.6" fill="#ffb0b0"/>
<rect x="6" y="42" width="3.6" height="3.6" fill="#ffb4b4"/>
<rect x="9" y="42" width="3.6" height="3.6" fill="#ffb8b8"/>
<rect x="12" y="42" width="3.6" height="3.6" fill="#ffbdbd"/>
<rect x="15" y="42" width="3.6" height="3.6" fill="#ffc3c3"/>
<rect x="18" y="42" width="3.6" height="3.6" fill="#ffc8c8"/>
<rect x="21" y="42" width="3.6" height="3.6" fill="#ffcdcd"/>
<rect x="24" y="42" width="3.6" height="3.6" fill="#ffd2d2"/>
<rect x="27" y="42" width="3.6" height="3.6" fill="#ffd6d6"/>
<rect x="30" y="42" width="3.6" height="3.6" fill="#ffd9d9"/>
<rect x="33" y="42" width="3.6" height="3.6" fill="#ffdbdb"/>
<rect x="36" y="42" width="3.6" height="3.6" fill="#ffdddd"/>
<rect x="39" y="42" width="3.6" height="3.6" fill="#ffdfdf"/>
<rect x="42" y="42" width="3.6" height="3.6" fill="#ffe0e0"/>
<rect x="45" y="42" width="6.6" height="3.6" fill="#ffe1e1"/>
<rect x="51" y="42" width="6.6" height="3.6" fill="#ffe2e2"/>
<rect x="57" y="42" width="15.6" height="3.6" fill="#ffe3e3"/>
<rect x="72" y="42" width="6.6" height="3.6" fill="#ffe4e4"/>
<rect x="78" y="42" width="3.6" height="3.6" fill="#ffe5e5"/>
<rect x="81" y="42" width="3.6" height="3.6" fill="#ffe8e8"/>
<rect x="84" y="42" width="3.6" height="3.6" fill="#fff0f0"/>
<rect x="87" y="42" width="3.6" height="3.6" fill="#fbfbff"/>
<rect x="90" y="42" width="3.6" height="3.6" fill="#ebebff"/>
<rect x="93" y="42" width="3.6" height="3.6" fill="#dedeff"/>
<rect x="96" y="42" width="3.6" height="3.6" fill="#d2d2ff"/>
<rect x="99" y="42" width="3.6" height="3.6" fill="#c6c6ff"/>
<rect x="102" y="42" width="3.6" height="3.6" fill="#bcbcff"/>
<rect x="105" y="42" width="3.6" height="3.6" fill="#b2b2ff"/>
<rect x="108" y="42" width="3.6" height="3.6" fill="#a9a9ff"/>
<rect x="111" y="42" width="3.6" height="3.6" fill="#a2a2ff"/>
<rect x="114" y="42" width="3.6" height="3.6" fill="#9c9cff"/>
<rect x="117" y="42" width="3.6" height="3.6" fill="#9696ff"/>
<rect x="120" y="42" width="3.6" height="3.6" fill="#9292ff"/>
<rect x="123" y="42" width="3.6" height="3.6" fill="#8f8fff"/>
<rect x="126" y="42" width="3.6" height="3.6" fill="#8d8dff"/>
<rect x="129" y="42" width="3.6" height="3.6" fill="#8c8cff"/>
<rect x="132" y="42" width="3.6" height="3.6" fill="#8a8aff"/>
<rect x="135" y="42" width="3.6" height="3.6" fill="#8989ff"/>
<rect x="138" y="42" width="3.6" height="3.6" fill="#8888ff"/>
<rect x="141" y="42" width="3.6" height="3.6" fill="#8686ff"/>
<rect x="144" y="42" width="3.6" height="3.6" fill="#8787ff"/>
<rect x="0" y="45" width="3.6" height="3.6" fill="#ffb5b5"/>
<rect x="3" y="45" width="3.6" height="3.6" fill="#ffb7b7"/>
<rect x="6" y="45" width="3.6" height="3.6" fill="#ffbaba"/>
<rect x="9" y="45" width="3.6" height="3.6" fill="#ffbebe"/>
<rect x="12" y="45" width="3.6" height="3.6" fill="#ffc2c2"/>
<rect x="15" y="45" width="3.6" height="3.6" fill="#ffc7c7"/>
<rect x="18" y="45" width="3.6" height="3.6" fill="#ffcccc"/>
<rect x="21" y="45" width="3.6" height="3.6" fill="#ffd0d0"/>
<rect x="24" y="45" width="3.6" height="3.6" fill="#ffd4d4"/>
<rect x="27" y="45" width="3.6" height="3.6" fill="#ffd8d8"/>
<rect x="30" y="45" width="3.6" height="3.6" fill="#ffdada"/>
<rect x="33" y="45" width="3.6" height="3.6" fill="#ffdddd"/>
<rect x="36" y="45" width="3.6" height="3.6" fill="#ffdede"/>
<rect x="39" y="45" width="3.6" height="3.6" fill="#ffe0e0"/>
<rect x="42" y="45" width="3.6" height="3.6" fill="#ffe1e1"/>
<rect x="45" y="45" width="6.6" height="3.6" fill="#ffe2e2"/>
<rect x="51" y="45" width="12.6" height="3.6" fill="#ffe3e3"/>
<rect x="63" y="45" width="15.6" height="3.6" fill="#ffe4e4"/>
<rect x="78" y="45" width="3.6" height="3.6" fill="#ffe5e5"/>
<rect x="81" y="45" width="3.6" height="3.6" fill="#ffe8e8"/>
<rect x="84" y="45" width="3.6" height="3.6" fill="#ffefef"/>
<rect x="87" y="45" width="3.6" height="3.6" fill="#fcfcff"/>
<rect x="90" y="45" width="3.6" height="3.6" fill="#eaeaff"/>
<rect x="93" y="45" width="3.6" height="3.6" fill="#dcdcff"/>
<rect x="96" y="45" width="3.6" height="3.6" fill="#ceceff"/>
<rect x="99" y="45" width="3.6" height="3.6" fill="#c2c2ff"/>
<rect x="102" y="45" width="3.6" height="3.6" fill="#b7b7ff"/>
<rect x="105" y="45" width="3.6" height="3.6" fill="#adadff"/>
<rect x="108" y="45" width="3.6" height="3.6" fill="#a5a5ff"/>
<rect x="111" y="45" width="3.6" height="3.6" fill="#9e9eff"/>
<rect x="114" y="45" width="3.6" height="3.6" fill="#9999ff"/>
<rect x="117" y="45" width="3.6" height="3.6" fill="#9696ff"/>
<rect x="120" y="45" width="3.6" height="3.6" fill="#9393ff"/>
<rect x="123" y="45" width="3.6" height="3.6" fill="#9292ff"/>
<rect x="126" y="45" width="12.6" height="3.6" fill="#9191ff"/>
<rect x="138" y="45" width="3.6" height="3.6" fill="#9090ff"/>
<rect x="141" y="45" width="6.6" height="3.6" fill="#8f8fff"/>
<rect x="0" y="48" width="3.6" height="3.6" fill="#ffbcbc"/>
<rect x="3" y="48" width="3.6" height="3.6" fill="#ffbebe"/>
<rect x="6" y="48" width="3.6" height="3.6" fill="#ffc0c0"/>
<rect x="9" y="48" width="3.6" height="3.6" fill="#ffc3c3"/>
<rect x="12" y="48" width="3.6" height="3.6" fill="#ffc7c7"/>
<rect x="15" y="48" width="3.6" height="3.6" fill="#ffcccc"/>
<rect x="18" y="48" width="3.6" height="3.6" fill="#ffd0d0"/>
<rect x="21" y="48" width="3.6" height="3.6" fill="#ffd4d4"/>
<rect x="24" y="48" width="3.6" height="3.6" fill="#ffd7d7"/>
<rect x="27" y="48" width="3.6" height="3.6" fill="#ffdada"/>
<rect x="30" y="48" width="3.6" height="3.6" fill="#ffdcdc"/>
<rect x="33" y="48" width="3.6" height="3.6" fill="#ffdede"/>
<rect x="36" y="48" width="3.6" height="3.6" fill="#ffe0e0"/>
<rect x="39" y="48" width="3.6" height="3.6" fill="#ffe1e1"/>
<rect x="42" y="48" width="3.6" height="3.6" fill="#ffe2e2"/>
<rect x="45" y="48" width="6.6" height="3.6" fill="#ffe3e3"/>
<rect x="51" y="48" width="24.6" height="3.6" fill="#ffe4e4"/>
<rect x="75" y="48" width="3.6" height="3.6" fill="#ffe5e5"/>
<rect x="78" y="48" width="3.6" height="3.6" fill="#ffe6e6"/>
<rect x="81" y="48" width="3.6" height="3.6" fill="#ffe9e9"/>
<rect x="84" y="48" width="3.6" height="3.6" fill="#fff2f2"/>
<rect x="87" y="48" width="3.6" height="3.6" fill="#f8f8ff"/>
<rect x="90" y="48" width="3.6" height="3.6" fill="#e7e7ff"/>
<rect x="93" y="48" width="3.6" height="3.6" fill="#d7d7ff"/>
<rect x="96" y="48" width="3.6" height="3.6" fill="#c9c9ff"/>
<rect x="99" y="48" width="3.6" height="3.6" fill="#bdbdff"/>
<rect x="102" y="48" width="3.6" height="3.6" fill="#b2b2ff"/>
<rect x="105" y="48" width="3.6" height="3.6" fill="#a9a9ff"/>
<rect x="108" y="48" width="3.6" height="3.6" fill="#a2a2ff"/>
<rect x="111" y="48" width="3.6" height="3.6" fill="#9c9cff"/>
<rect x="114" y="48" width="3.6" height="3.6" fill="#9999ff"/>
<rect x="117" y="48" width="3.6" height="3.6" fill="#9797ff"/>
<rect x="120" y="48" width="3.6" height="3.6" fill="#9696ff"/>
<rect x="123" y="48" width="3.6" height="3.6" fill="#9797ff"/>
<rect x="126" y="48" width="3.6" height="3.6" fill="#9898ff"/>
<rect x="129" y="48" width="3.6" height="3.6" fill="#9a9aff"/>
<rect x="132" y="48" width="3.6" height="3.6" fill="#9b9bff"/>
<rect x="135" y="48" width="6.6" height="3.6" fill="#9c9cff"/>
<rect x="141" y="48" width="6.6" height="3.6" fill="#9b9bff"/>
<rect x="0" y="51" width="3.6" height="3.6" fill="#ffc4c4"/>
<rect x="3" y="51" width="3.6" height="3.6" fill="#ffc5c5"/>
<rect x="6" y="51" width="3.6" height="3.6" fill="#ffc7c7"/>
<rect x="9" y="51" width="3.6" height="3.6" fill="#ffcaca"/>
<rect x="12" y="51" width="3.6" height="3.6" fill="#ffcdcd"/>
<rect x="15" y="51" width="3.6" height="3.6" fill="#ffd0d0"/>
<rect x="18" y="51" width="3.6" height="3.6" fill="#ffd4d4"/>
<rect x="21" y="51" width="3.6" height="3.6" fill="#ffd7d7"/>
<rect x="24" y="51" width="3.6" height="3.6" fill="#ffdada"/>
<rect x="27" y="51" width="3.6" height="3.6" fill="#ffdddd"/>
<rect x="30" y="51" width="3.6" height="3.6" fill="#ffdfdf"/>
<rect x="33" y="51" width="3.6" height="3.6" fill="#ffe1e1"/>
<rect x="36" y="51" width="3.6" height="3.6" fill="#ffe2e2"/>
<rect x="39" y="51" width="3.6" height="3.6" fill="#ffe3e3"/>
<rect x="42" y="51" width="6.6" height="3.6" fill="#ffe4e4"/>
<rect x="48" y="51" width="27.6" height="3.6" fill="#ffe5e5"/>
<rect x="75" y="51" width="3.6" height="3.6" fill="#ffe6e6"/>
<rect x="78" y="51" width="3.6" height="3.6" fill="#ffe8e8"/>
<rect x="81" y="51" width="3.6" height="3.6" fill="#ffeded"/>
<rect x="84" y="51" width="3.6" height="3.6" fill="#fff9f9"/>
<rect x="87" y="51" width="3.6" height="3.6" fill="#f0f0ff"/>
<rect x="90" y="51" width="3.6" height="3.6" fill="#dfdfff"/>
<rect x="93" y="51" width="3.6" height="3.6" fill="#d0d0ff"/>
<rect x="96" y="51" width="3.6" height="3.6" fill="#c3c3ff"/>
<rect x="99" y="51" width="3.6" height="3.6" fill="#b7b7ff"/>
<rect x="102" y="51" width="3.6" height="3.6" fill="#adadff"/>
<rect x="105" y="51" width="3.6" height="3.6" fill="#a5a5ff"/>
<rect x="108" y="51" width="3.6" height="3.6" fill="#a0a0ff"/>
<rect x="111" y="51" width="3.6" height="3.6" fill="#9c9cff"/>
<rect x="114" y="51" width="6.6" height="3.6" fill="#9b9bff"/>
<rect x="120" y="51" width="3.6" height="3.6" fill="#9d9dff"/>
<rect x="123" y="51" width="3.6" height="3.6" fill="#9f9fff"/>
<rect x="126" y="51" width="3.6" height="3.6" fill="#a2a2ff"/>
<rect x="129" y="51" width="3.6" height="3.6" fill="#a5a5ff"/>
<rect x="132" y="51" width="3.6" height="3.6" fill="#a8a8ff"/>
<rect x="135" y="51" width="3.6" height="3.6" fill="#aaaaff"/>
<rect x="138" y="51" width="9.6" height="3.6" fill="#ababff"/>
<rect x="0" y="54" width="3.6" height="3.6" fill="#ffcbcb"/>
<rect x="3" y="54" width="3.6" height="3.6" fill="#ffcccc"/>
<rect x="6" y="54" width="3.6" height="3.6" fill="#ffcece"/>
<rect x="9" y="54" width="3.6" height="3.6" fill="#ffd0d0"/>
<rect x="12" y="54" width="3.6" height="3.6" fill="#ffd3d3"/>
<rect x="15" y="54" width="3.6" height="3.6" fill="#ffd6d6"/>
<rect x="18" y="54" width="3.6" height="3.6" fill="#ffd9d9"/>
<rect x="21" y="54" width="3.6" height="3.6" fill="#ffdbdb"/>
<rect x="24" y="54" width="3.6" height="3.6" fill="#ffdede"/>
<rect x="27" y="54" width="3.6" height="3.6" fill="#ffe0e0"/>
<rect x="30" y="54" width="3.6" height="3.6" fill="#ffe2e2"/>
<rect x="33" y="54" width="3.6" height="3.6" fill="#ffe3e3"/>
<rect x="36" y="54" width="3.6" height="3.6" fill="#ffe4e4"/>
<rect x="39" y="54" width="3.6" height="3.6" fill="#ffe5e5"/>
<rect x="42" y="54" width="15.6" height="3.6" fill="#ffe6e6"/>
<rect x="57" y="54" width="18.6" height="3.6" fill="#ffe7e7"/>
<rect x="75" y="54" width="3.6" height="3.6" fill="#ffe8e8"/>
<rect x="78" y="54" width="3.6" height="3.6" fill="#ffebeb"/>
<rect x="81" y="54" width="3.6" height="3.6" fill="#fff2f2"/>
<rect x="84" y="54" width="3.6" height="3.6" fill="#f9f9ff"/>
<rect x="87" y="54" width="3.6" height="3.6" fill="#e7e7ff"/>
<rect x="90" y="54" width="3.6" height="3.6" fill="#d7d7ff"/>
<rect x="93" y="54" width="3.6" height="3.6" fill="#c9c9ff"/>
<rect x="96" y="54" width="3.6" height="3.6" fill="#bcbcff"/>
<rect x="99" y="54" width="3.6" height="3.6" fill="#b2b2ff"/>
<rect x="102" y="54" width="3.6" height="3.6" fill="#a9a9ff"/>
<rect x="105" y="54" width="3.6" height="3.6" fill="#a3a3ff"/>
<rect x="108" y="54" width="3.6" height="3.6" fill="#9f9fff"/>
<rect x="111" y="54" width="3.6" height="3.6" fill="#9e9eff"/>
<rect x="114" y="54" width="3.6" height="3.6" fill="#9f9fff"/>
<rect x="117" y="54" width="3.6" height="3.6" fill="#a2a2ff"/>
<rect x="120" y="54" width="3.6" height="3.6" fill="#a6a6ff"/>
<rect x="123" y="54" width="3.6" height="3.6" fill="#aaaaff"/>
<rect x="126" y="54" width="3.6" height="3.6" fill="#afafff"/>
<rect x="129" y="54" width="3.6" height="3.6" fill="#b4b4ff"/>
<rect x="132" y="54" width="3.6" height="3.6" fill="#b7b7ff"/>
<rect x="135" y="54" width="3.6" height="3.6" fill="#babaff"/>
<rect x="138" y="54" width="9.6" height="3.6" fill="#bcbcff"/>
<rect x="0" y="57" width="3.6" height="3.6" fill="#ffd3d3"/>
<rect x="3" y="57" width="3.6" height="3.6" fill="#ffd4d4"/>
<rect x="6" y="57" width="3.6" height="3.6" fill="#ffd5d5"/>
<rect x="9" y="57" width="3.6" height="3.6" fill="#ffd7d7"/>
<rect x="12" y="57" width="3.6" height="3.6" fill="#ffd9d9"/>
<rect x="15" y="57" width="3.6" height="3.6" fill="#ffdcdc"/>
<rect x="18" y="57" width="3.6" height="3.6" fill="#ffdede"/>
<rect x="21" y="57" width="3.6" height="3.6" fill="#ffe0e0"/>
<rect x="24" y="57" width="3.6" height="3.6" fill="#ffe2e2"/>
<rect x="27" y="57" width="3.6" height="3.6" fill="#ffe4e4"/>
<rect x="30" y="57" width="3.6" height="3.6" fill="#ffe5e5"/>
<rect x="33" y="57" width="3.6" height="3.6" fill="#ffe6e6"/>
<rect x="36" y="57" width="6.6" height="3.6" fill="#ffe7e7"/>
<rect x="42" y="57" width="30.6" height="3.6" fill="#ffe8e8"/>
<rect x="72" y="57" width="3.6" height="3.6" fill="#ffe9e9"/>
<rect x="75" y="57" width="3.6" height="3.6" fill="#ffeaea"/>
<rect x="78" y="57" width="3.6" height="3.6" fill="#fff0f0"/>
<rect x="81" y="57" width="3.6" height="3.6" fill="#fffefe"/>
<rect x="84" y="57" width="3.6" height="3.6" fill="#ededff"/>
<rect x="87" y="57" width="3.6" height="3.6" fill="#dedeff"/>
<rect x="90" y="57" width="3.6" height="3.6" fill="#cfcfff"/>
<rect x="93" y="57" width="3.6" height="3.6" fill="#c2c2ff"/>
<rect x="96" y="57" width="3.6" height="3.6" fill="#b6b6ff"/>
<rect x="99" y="57" width="3.6" height="3.6" fill="#adadff"/>
<rect x="102" y="57" width="3.6" height="3.6" fill="#a6a6ff"/>
<rect x="105" y="57" width="3.6" height="3.6" fill="#a2a2ff"/>
<rect x="108" y="57" width="3.6" height="3.6" fill="#a1a1ff"/>
<rect x="111" y="57" width="3.6" height="3.6" fill="#a2a2ff"/>
<rect x="114" y="57" width="3.6" height="3.6" fill="#a5a5ff"/>
<rect x="117" y="57" width="3.6" height="3.6" fill="#aaaaff"/>
<rect x="120" y="57" width="3.6" height="3.6" fill="#b0b0ff"/>
<rect x="123" y="57" width="3.6" height="3.6" fill="#b7b7ff"/>
<rect x="126" y="57" width="3.6" height="3.6" fill="#bdbdff"/>
<rect x="129" y="57" width="3.6" height="3.6" fill="#c3c3ff"/>
<rect x="132" y="57" width="3.6" height="3.6" fill="#c7c7ff"/>
<rect x="135" y="57" width="3.6" height="3.6" fill="#cbcbff"/>
<rect x="138" y="57" width="9.6" height="3.6" fill="#cdcdff"/>
<rect x="0" y="60" width="6.6" height="3.6" fill="#ffdbdb"/>
<rect x="6" y="60" width="3.6" height="3.6" fill="#ffdcdc"/>
<rect x="9" y="60" width="3.6" height="3.6" fill="#ffdede"/>
<rect x="12" y="60" width="3.6" height="3.6" fill="#ffe0e0"/>
<rect x="15" y="60" width="3.6" height="3.6" fill="#ffe1e1"/>
<rect x="18" y="60" width="3.6" height="3.6" fill="#ffe3e3"/>
<rect x="21" y="60" width="3.6" height="3.6" fill="#ffe5e5"/>
<rect x="24" y="60" width="3.6" height="3.6" fill="#ffe6e6"/>
<rect x="27" y="60" width="3.6" height="3.6" fill="#ffe7e7"/>
<rect x="30" y="60" width="3.6" height="3.6" fill="#ffe8e8"/>
<rect x="33" y="60" width="3.6" height="3.6" fill="#ffe9e9"/>
<rect x="36" y="60" width="36.6" height="3.6" fill="#ffeaea"/>
<rect x="72" y="60" width="3.6" height="3.6" fill="#ffebeb"/>
<rect x="75" y="60" width="3.6" height="3.6" fill="#ffefef"/>
<rect x="78" y="60" width="3.6" height="3.6" fill="#fffafa"/>
<rect x="81" y="60" width="3.6" height="3.6" fill="#f2f2ff"/>
<rect x="84" y="60" width="3.6" height="3.6" fill="#e3e3ff"/>
<rect x="87" y="60" width="3.6" height="3.6" fill="#d5d5ff"/>
<rect x="90" y="60" width="3.6" height="3.6" fill="#c7c7ff"/>
<rect x="93" y="60" width="3.6" height="3.6" fill="#bbbbff"/>
<rect x="96" y="60" width="3.6" height="3.6" fill="#b1b1ff"/>
<rect x="99" y="60" width="3.6" height="3.6" fill="#aaaaff"/>
<rect x="102" y="60" width="3.6" height="3.6" fill="#a5a5ff"/>
<rect x="105" y="60" width="3.6" height="3.6" fill="#a3a3ff"/>
<rect x="108" y="60" width="3.6" height="3.6" fill="#a4a4ff"/>
<rect x="111" y="60" width="3.6" height="3.6" fill="#a8a8ff"/>
<rect x="114" y="60" width="3.6" height="3.6" fill="#adadff"/>
<rect x="117" y="60" width="3.6" height="3.6" fill="#b5b5ff"/>
<rect x="120" y="60" width="3.6" height="3.6" fill="#bdbdff"/>
<rect x="123" y="60" width="3.6" height="3.6" fill="#c4c4ff"/>
<rect x="126" y="60" width="3.6" height="3.6" fill="#ccccff"/>
<rect x="129" y="60" width="3.6" height="3.6" fill="#d2d2ff"/>
<rect x="132" y="60" width="3.6" height="3.6" fill="#d6d6ff"/>
<rect x="135" y="60" width="3.6" height="3.6" fill="#dadaff"/>
<rect x="138" y="60" width="9.6" height="3.6" fill="#dcdcff"/>
<rect x="0" y="63" width="6.6" height="3.6" fill="#ffe3e3"/>
<rect x="6" y="63" width="3.6" height="3.6" fill="#ffe4e4"/>
<rect x="9" y="63" width="3.6" height="3.6" fill="#ffe5e5"/>
<rect x="12" y="63" width="3.6" height="3.6" fill="#ffe6e6"/>
<rect x="15" y="63" width="3.6" height="3.6" fill="#ffe8e8"/>
<rect x="18" y="63" width="3.6" height="3.6" fill="#ffe9e9"/>
<rect x="21" y="63" width="3.6" height="3.6" fill="#ffeaea"/>
<rect x="24" y="63" width="3.6" height="3.6" fill="#ffebeb"/>
<rect x="27" y="63" width="9.6" height="3.6" fill="#ffecec"/>
<rect x="36" y="63" width="6.6" height="3.6" fill="#ffeded"/>
<rect x="42" y="63" width="15.6" height="3.6" fill="#ffecec"/>
<rect x="57" y="63" width="12.6" height="3.6" fill="#ffebeb"/>
<rect x="69" y="63" width="3.6" height="3.6" fill="#ffecec"/>
<rect x="72" y="63" width="3.6" height="3.6" fill="#fff0f0"/>
<rect x="75" y="63" width="3.6" height="3.6" fill="#fff7f7"/>
<rect x="78" y="63" width="3.6" height="3.6" fill="#f4f4ff"/>
<rect x="81" y="63" width="3.6" height="3.6" fill="#e6e6ff"/>
<rect x="84" y="63" width="3.6" height="3.6" fill="#d9d9ff"/>
<rect x="87" y="63" width="3.6" height="3.6" fill="#ccccff"/>
<rect x="90" y="63" width="3.6" height="3.6" fill="#c0c0ff"/>
<rect x="93" y="63" width="3.6" height="3.6" fill="#b6b6ff"/>
<rect x="96" y="63" width="3.6" height="3.6" fill="#aeaeff"/>
<rect x="99" y="63" width="3.6" height="3.6" fill="#a8a8ff"/>
<rect x="102" y="63" width="6.6" height="3.6" fill="#a5a5ff"/>
<rect x="108" y="63" width="3.6" height="3.6" fill="#a9a9ff"/>
<rect x="111" y="63" width="3.6" height="3.6" fill="#afafff"/>
<rect x="114" y="63" width="3.6" height="3.6" fill="#b7b7ff"/>
<rect x="117" y="63" width="3.6" height="3.6" fill="#c0c0ff"/>
<rect x="120" y="63" width="3.6" height="3.6" fill="#c9c9ff"/>
<rect x="123" y="63" width="3.6" height="3.6" fill="#d1d1ff"/>
<rect x="126" y="63" width="3.6" height="3.6" fill="#d9d9ff"/>
<rect x="129" y="63" width="3.6" height="3.6" fill="#dfdfff"/>
<rect x="132" y="63" width="3.6" height="3.6" fill="#e3e3ff"/>
<rect x="135" y="63" width="3.6" height="3.6" fill="#e6e6ff"/>
<rect x="138" y="63" width="9.6" height="3.6" fill="#e8e8ff"/>
<rect x="0" y="66" width="6.6" height="3.6" fill="#ffebeb"/>
<rect x="6" y="66" width="6.6" height="3.6" fill="#ffecec"/>
<rect x="12" y="66" width="3.6" height="3.6" fill="#ffeded"/>
<rect x="15" y="66" width="3.6" height="3.6" fill="#ffeeee"/>
<rect x="18" y="66" width="6.6" height="3.6" fill="#ffefef"/>
<rect x="24" y="66" width="12.6" height="3.6" fill="#fff0f0"/>
<rect x="36" y="66" width="9.6" height="3.6" fill="#ffefef"/>
<rect x="45" y="66" width="9.6" height="3.6" fill="#ffeeee"/>
<rect x="54" y="66" width="15.6" height="3.6" fill="#ffeded"/>
<rect x="69" y="66" width="3.6" height="3.6" fill="#fff0f0"/>
<rect x="72" y="66" width="3.6" height="3.6" fill="#fff7f7"/>
<rect x="75" y="66" width="3.6" height="3.6" fill="#f6f6ff"/>
<rect x="78" y="66" width="3.6" height="3.6" fill="#e9e9ff"/>
<rect x="81" y="66" width="3.6" height="3.6" fill="#dedeff"/>
<rect x="84" y="66" width="3.6" height="3.6" fill="#d2d2ff"/>
<rect x="87" y="66" width="3.6" height="3.6" fill="#c6c6ff"/>
<rect x="90" y="66" width="3.6" height="3.6" fill="#bbbbff"/>
<rect x="93" y="66" width="3.6" height="3.6" fill="#b2b2ff"/>
<rect x="96" y="66" width="3.6" height="3.6" fill="#ababff"/>
<rect x="99" y="66" width="6.6" height="3.6" fill="#a7a7ff"/>
<rect x="105" y="66" width="3.6" height="3.6" fill="#a9a9ff"/>
<rect x="108" y="66" width="3.6" height="3.6" fill="#afafff"/>
<rect x="111" y="66" width="3.6" height="3.6" fill="#b7b7ff"/>
<rect x="114" y="66" width="3.6" height="3.6" fill="#c0c0ff"/>
<rect x="117" y="66" width="3.6" height="3.6" fill="#cbcbff"/>
<rect x="120" y="66" width="3.6" height="3.6" fill="#d4d4ff"/>
<rect x="123" y="66" width="3.6" height="3.6" fill="#ddddff"/>
<rect x="126" y="66" width="3.6" height="3.6" fill="#e4e4ff"/>
<rect x="129" y="66" width="3.6" height="3.6" fill="#e9e9ff"/>
<rect x="132" y="66" width="3.6" height="3.6" fill="#ececff"/>
<rect x="135" y="66" width="3.6" height="3.6" fill="#efefff"/>
<rect x="138" y="66" width="9.6" height="3.6" fill="#f0f0ff"/>
<rect x="0" y="69" width="12.6" height="3.6" fill="#fff3f3"/>
<rect x="12" y="69" width="18.6" height="3.6" fill="#fff4f4"/>
<rect x="30" y="69" width="6.6" height="3.6" fill="#fff3f3"/>
<rect x="36" y="69" width="6.6" height="3.6" fill="#fff2f2"/>
<rect x="42" y="69" width="3.6" height="3.6" fill="#fff1f1"/>
<rect x="45" y="69" width="6.6" height="3.6" fill="#fff0f0"/>
<rect x="51" y="69" width="6.6" height="3.6" fill="#ffefef"/>
<rect x="57" y="69" width="9.6" height="3.6" fill="#ffeeee"/>
<rect x="66" y="69" width="3.6" height="3.6" fill="#fff1f1"/>
<rect x="69" y="69" width="3.6" height="3.6" fill="#fff6f6"/>
<rect x="72" y="69" width="3.6" height="3.6" fill="#f8f8ff"/>
<rect x="75" y="69" width="3.6" height="3.6" fill="#ededff"/>
<rect x="78" y="69" width="3.6" height="3.6" fill="#e2e2ff"/>
<rect x="81" y="69" width="3.6" height="3.6" fill="#d7d7ff"/>
<rect x="84" y="69" width="3.6" height="3.6" fill="#ccccff"/>
<rect x="87" y="69" width="3.6" height="3.6" fill="#c1c1ff"/>
<rect x="90" y="69" width="3.6" height="3.6" fill="#b8b8ff"/>
<rect x="93" y="69" width="3.6" height="3.6" fill="#b0b0ff"/>
<rect x="96" y="69" width="3.6" height="3.6" fill="#aaaaff"/>
<rect x="99" y="69" width="3.6" height="3.6" fill="#a8a8ff"/>
<rect x="102" y="69" width="3.6" height="3.6" fill="#a9a9ff"/>
<rect x="105" y="69" width="3.6" height="3.6" fill="#aeaeff"/>
<rect x="108" y="69" width="3.6" height="3.6" fill="#b5b5ff"/>
<rect x="111" y="69" width="3.6" height="3.6" fill="#bfbfff"/>
<rect x="114" y="69" width="3.6" height="3.6" fill="#cacaff"/>
<rect x="117" y="69" width="3.6" height="3.6" fill="#d5d5ff"/>
<rect x="120" y="69" width="3.6" height="3.6" fill="#dedeff"/>
<rect x="123" y="69" width="3.6" height="3.6" fill="#e6e6ff"/>
<rect x="126" y="69" width="3.6" height="3.6" fill="#ececff"/>
<rect x="129" y="69" width="3.6" height="3.6" fill="#f0f0ff"/>
<rect x="132" y="69" width="3.6" height="3.6" fill="#f3f3ff"/>
<rect x="135" y="69" width="3.6" height="3.6" fill="#f4f4ff"/>
<rect x="138" y="69" width="9.6" height="3.6" fill="#f5f5ff"/>
<rect x="0" y="72" width="21.6" height="3.6" fill="#fffafa"/>
<rect x="21" y="72" width="6.6" height="3.6" fill="#fff9f9"/>
<rect x="27" y="72" width="3.6" height="3.6" fill="#fff8f8"/>
<rect x="30" y="72" width="3.6" height="3.6" fill="#fff7f7"/>
<rect x="33" y="72" width="3.6" height="3.6" fill="#fff6f6"/>
<rect x="36" y="72" width="3.6" height="3.6" fill="#fff5f5"/>
<rect x="39" y="72" width="3.6" height="3.6" fill="#fff4f4"/>
<rect x="42" y="72" width="3.6" height="3.6" fill="#fff3f3"/>
<rect x="45" y="72" width="3.6" height="3.6" fill="#fff2f2"/>
<rect x="48" y="72" width="6.6" height="3.6" fill="#fff1f1"/>
<rect x="54" y="72" width="9.6" height="3.6" fill="#fff0f0"/>
<rect x="63" y="72" width="3.6" height="3.6" fill="#fff2f2"/>
<rect x="66" y="72" width="3.6" height="3.6" fill="#fff6f6"/>
<rect x="69" y="72" width="3.6" height="3.6" fill="#fafaff"/>
<rect x="72" y="72" width="3.6" height="3.6" fill="#efefff"/>
<rect x="75" y="72" width="3.6" height="3.6" fill="#e6e6ff"/>
<rect x="78" y="72" width="3.6" height="3.6" fill="#dcdcff"/>
<rect x="81" y="72" width="3.6" height="3.6" fill="#d2d2ff"/>
<rect x="84" y="72" width="3.6" height="3.6" fill="#c8c8ff"/>
<rect x="87" y="72" width="3.6" height="3.6" fill="#bebeff"/>
<rect x="90" y="72" width="3.6" height="3.6" fill="#b5b5ff"/>
<rect x="93" y="72" width="3.6" height="3.6" fill="#aeaeff"/>
<rect x="96" y="72" width="3.6" height="3.6" fill="#aaaaff"/>
<rect x="99" y="72" width="3.6" height="3.6" fill="#a9a9ff"/>
<rect x="102" y="72" width="3.6" height="3.6" fill="#acacff"/>
<rect x="105" y="72" width="3.6" height="3.6" fill="#b3b3ff"/>
<rect x="108" y="72" width="3.6" height="3.6" fill="#bcbcff"/>
<rect x="111" y="72" width="3.6" height="3.6" fill="#c7c7ff"/>
<rect x="114" y="72" width="3.6" height="3.6" fill="#d3d3ff"/>
<rect x="117" y="72" width="3.6" height="3.6" fill="#ddddff"/>
<rect x="120" y="72" width="3.6" height="3.6" fill="#e6e6ff"/>
<rect x="123" y="72" width="3.6" height="3.6" fill="#ededff"/>
<rect x="126" y="72" width="3.6" height="3.6" fill="#f1f1ff"/>
<rect x="129" y="72" width="3.6" height="3.6" fill="#f4f4ff"/>
<rect x="132" y="72" width="3.6" height="3.6" fill="#f6f6ff"/>
<rect x="135" y="72" width="3.6" height="3.6" fill="#f7f7ff"/>
<rect x="138" y="72" width="9.6" height="3.6" fill="#f8f8ff"/>
<rect x="0" y="75" width="6.6" height="3.6" fill="#fcfcff"/>
<rect x="6" y="75" width="9.6" height="3.6" fill="#fdfdff"/>
<rect x="15" y="75" width="3.6" height="3.6" fill="#fefeff"/>
<rect x="18" y="75" width="3.6" height="3.6" fill="#ffffff"/>
<rect x="21" y="75" width="3.6" height="3.6" fill="#fffefe"/>
<rect x="24" y="75" width="3.6" height="3.6" fill="#fffdfd"/>
<rect x="27" y="75" width="3.6" height="3.6" fill="#fffcfc"/>
<rect x="30" y="75" width="3.6" height="3.6" fill="#fffafa"/>
<rect x="33" y="75" width="3.6" height="3.6" fill="#fff9f9"/>
<rect x="36" y="75" width="3.6" height="3.6" fill="#fff8f8"/>
<rect x="39" y="75" width="3.6" height="3.6" fill="#fff6f6"/>
<rect x="42" y="75" width="3.6" height="3.6" fill="#fff5f5"/>
<rect x="45" y="75" width="3.6" height="3.6" fill="#fff4f4"/>
<rect x="48" y="75" width="3.6" height="3.6" fill="#fff3f3"/>
<rect x="51" y="75" width="3.6" height="3.6" fill="#fff2f2"/>
<rect x="54" y="75" width="6.6" height="3.6" fill="#fff1f1"/>
<rect x="60" y="75" width="3.6" height="3.6" fill="#fff3f3"/>
<rect x="63" y="75" width="3.6" height="3.6" fill="#fff7f7"/>
<rect x="66" y="75" width="3.6" height="3.6" fill="#fafaff"/>
<rect x="69" y="75" width="3.6" height="3.6" fill="#f1f1ff"/>
<rect x="72" y="75" width="3.6" height="3.6" fill="#e9e9ff"/>
<rect x="75" y="75" width="3.6" height="3.6" fill="#e0e0ff"/>
<rect x="78" y="75" width="3.6" height="3.6" fill="#d7d7ff"/>
<rect x="81" y="75" width="3.6" height="3.6" fill="#ceceff"/>
<rect x="84" y="75" width="3.6" height="3.6" fill="#c4c4ff"/>
<rect x="87" y="75" width="3.6" height="3.6" fill="#bbbbff"/>
<rect x="90" y="75" width="3.6" height="3.6" fill="#b3b3ff"/>
<rect x="93" y="75" width="3.6" height="3.6" fill="#adadff"/>
<rect x="96" y="75" width="6.6" height="3.6" fill="#ababff"/>
<rect x="102" y="75" width="3.6" height="3.6" fill="#b0b0ff"/>
<rect x="105" y="75" width="3.6" height="3.6" fill="#b8b8ff"/>
<rect x="108" y="75" width="3.6" height="3.6" fill="#c2c2ff"/>
<rect x="111" y="75" width="3.6" height="3.6" fill="#ceceff"/>
<rect x="114" y="75" width="3.6" height="3.6" fill="#dadaff"/>
<rect x="117" y="75" width="3.6" height="3.6" fill="#e4e4ff"/>
<rect x="120" y="75" width="3.6" height="3.6" fill="#ececff"/>
<rect x="123" y="75" width="3.6" height="3.6" fill="#f2f2ff"/>
<rect x="126" y="75" width="3.6" height="3.6" fill="#f5f5ff"/>
<rect x="129" y="75" width="3.6" height="3.6" fill="#f7f7ff"/>
<rect x="132" y="75" width="3.6" height="3.6" fill="#f8f8ff"/>
<rect x="135" y="75" width="12.6" height="3.6" fill="#f9f9ff"/>
<rect x="0" y="78" width="6.6" height="3.6" fill="#f5f5ff"/>
<rect x="6" y="78" width="3.6" height="3.6" fill="#f6f6ff"/>
<rect x="9" y="78" width="6.6" height="3.6" fill="#f7f7ff"/>
<rect x="15" y="78" width="3.6" height="3.6" fill="#f8f8ff"/>
<rect x="18" y="78" width="3.6" height="3.6" fill="#fafaff"/>
<rect x="21" y="78" width="3.6" height="3.6" fill="#fbfbff"/>
<rect x="24" y="78" width="3.6" height="3.6" fill="#fdfdff"/>
<rect x="27" y="78" width="3.6" height="3.6" fill="#ffffff"/>
<rect x="30" y="78" width="3.6" height="3.6" fill="#fffefe"/>
<rect x="33" y="78" width="3.6" height="3.6" fill="#fffcfc"/>
<rect x="36" y="78" width="3.6" height="3.6" fill="#fffafa"/>
<rect x="39" y="78" width="3.6" height="3.6" fill="#fff9f9"/>
<rect x="42" y="78" width="3.6" height="3.6" fill="#fff7f7"/>
<rect x="45" y="78" width="3.6" height="3.6" fill="#fff6f6"/>
<rect x="48" y="78" width="3.6" height="3.6" fill="#fff4f4"/>
<rect x="51" y="78" width="6.6" height="3.6" fill="#fff3f3"/>
<rect x="57" y="78" width="3.6" height="3.6" fill="#fff4f4"/>
<rect x="60" y="78" width="3.6" height="3.6" fill="#fff8f8"/>
<rect x="63" y="78" width="3.6" height="3.6" fill="#fbfbff"/>
<rect x="66" y="78" width="3.6" height="3.6" fill="#f2f2ff"/>
<rect x="69" y="78" width="3.6" height="3.6" fill="#ebebff"/>
<rect x="72" y="78" width="3.6" height="3.6" fill="#e4e4ff"/>
<rect x="75" y="78" width="3.6" height="3.6" fill="#ddddff"/>
<rect x="78" y="78" width="3.6" height="3.6" fill="#d4d4ff"/>
<rect x="81" y="78" width="3.6" height="3.6" fill="#cbcbff"/>
<rect x="84" y="78" width="3.6" height="3.6" fill="#c2c2ff"/>
<rect x="87" y="78" width="3.6" height="3.6" fill="#b9b9ff"/>
<rect x="90" y="78" width="3.6" height="3.6" fill="#b2b2ff"/>
<rect x="93" y="78" width="3.6" height="3.6" fill="#adadff"/>
<rect x="96" y="78" width="3.6" height="3.6" fill="#acacff"/>
<rect x="99" y="78" width="3.6" height="3.6" fill="#aeaeff"/>
<rect x="102" y="78" width="3.6" height="3.6" fill="#b4b4ff"/>
<rect x="105" y="78" width="3.6" height="3.6" fill="#bdbdff"/>
<rect x="108" y="78" width="3.6" height="3.6" fill="#c8c8ff"/>
<rect x="111" y="78" width="3.6" height="3.6" fill="#d5d5ff"/>
<rect x="114" y="78" width="3.6" height="3.6" fill="#e0e0ff"/>
<rect x="117" y="78" width="3.6" height="3.6" fill="#e9e9ff"/>
<rect x="120" y="78" width="3.6" height="3.6" fill="#f0f0ff"/>
<rect x="123" y="78" width="3.6" height="3.6" fill="#f5f5ff"/>
<rect x="126" y="78" width="3.6" height="3.6" fill="#f7f7ff"/>
<rect x="129" y="78" width="6.6" height="3.6" fill="#f9f9ff"/>
<rect x="135" y="78" width="12.6" height="3.6" fill="#fafaff"/>
<rect x="0" y="81" width="6.6" height="3.6" fill="#efefff"/>
<rect x="6" y="81" width="3.6" height="3.6" fill="#f0f0ff"/>
<rect x="9" y="81" width="3.6" height="3.6" fill="#f1f1ff"/>
<rect x="12" y="81" width="3.6" height="3.6" fill="#f2f2ff"/>
<rect x="15" y="81" width="3.6" height="3.6" fill="#f3f3ff"/>
<rect x="18" y="81" width="3.6" height="3.6" fill="#f5f5ff"/>
<rect x="21" y="81" width="3.6" height="3.6" fill="#f7f7ff"/>
<rect x="24" y="81" width="3.6" height="3.6" fill="#f9f9ff"/>
<rect x="27" y="81" width="3.6" height="3.6" fill="#fbfbff"/>
<rect x="30" y="81" width="3.6" height="3.6" fill="#fdfdff"/>
<rect x="33" y="81" width="3.6" height="3.6" fill="#ffffff"/>
<rect x="36" y="81" width="3.6" height="3.6" fill="#fffdfd"/>
<rect x="39" y="81" width="3.6" height="3.6" fill="#fffbfb"/>
<rect x="42" y="81" width="3.6" height="3.6" fill="#fff9f9"/>
<rect x="45" y="81" width="3.6" height="3.6" fill="#fff7f7"/>
<rect x="48" y="81" width="3.6" height="3.6" fill="#fff6f6"/>
<rect x="51" y="81" width="6.6" height="3.6" fill="#fff5f5"/>
<rect x="57" y="81" width="3.6" height="3.6" fill="#fff8f8"/>
<rect x="60" y="81" width="3.6" height="3.6" fill="#fdfdff"/>
<rect x="63" y="81" width="3.6" height="3.6" fill="#f4f4ff"/>
<rect x="66" y="81" width="3.6" height="3.6" fill="#eeeeff"/>
<rect x="69" y="81" width="3.6" height="3.6" fill="#e8e8ff"/>
<rect x="72" y="81" width="3.6" height="3.6" fill="#e1e1ff"/>
<rect x="75" y="81" width="3.6" height="3.6" fill="#dadaff"/>
<rect x="78" y="81" width="3.6" height="3.6" fill="#d2d2ff"/>
<rect x="81" y="81" width="3.6" height="3.6" fill="#c9c9ff"/>
<rect x="84" y="81" width="3.6" height="3.6" fill="#c0c0ff"/>
<rect x="87" y="81" width="3.6" height="3.6" fill="#b8b8ff"/>
<rect x="90" y="81" width="3.6" height="3.6" fill="#b2b2ff"/>
<rect x="93" y="81" width="3.6" height="3.6" fill="#aeaeff"/>
<rect x="96" y="81" width="3.6" height="3.6" fill="#adadff"/>
<rect x="99" y="81" width="3.6" height="3.6" fill="#b0b0ff"/>
<rect x="102" y="81" width="3.6" height="3.6" fill="#b7b7ff"/>
<rect x="105" y="81" width="3.6" height="3.6" fill="#c1c1ff"/>
<rect x="108" y="81" width="3.6" height="3.6" fill="#cdcdff"/>
<rect x="111" y="81" width="3.6" height="3.6" fill="#dadaff"/>
<rect x="114" y="81" width="3.6" height="3.6" fill="#e5e5ff"/>
<rect x="117" y="81" width="3.6" height="3.6" fill="#ededff"/>
<rect x="120" y="81" width="3.6" height="3.6" fill="#f3f3ff"/>
<rect x="123" y="81" width="3.6" height="3.6" fill="#f7f7ff"/>
<rect x="126" y="81" width="3.6" height="3.6" fill="#f8f8ff"/>
<rect x="129" y="81" width="3.6" height="3.6" fill="#f9f9ff"/>
<rect x="132" y="81" width="15.6" height="3.6" fill="#fafaff"/>
<rect x="0" y="84" width="6.6" height="3.6" fill="#eaeaff"/>
<rect x="6" y="84" width="3.6" height="3.6" fill="#ebebff"/>
<rect x="9" y="84" width="3.6" height="3.6" fill="#ececff"/>
<rect x="12" y="84" width="3.6" height="3.6" fill="#ededff"/>
<rect x="15" y="84" width="3.6" height="3.6" fill="#efefff"/>
<rect x="18" y="84" width="3.6" height="3.6" fill="#f1f1ff"/>
<rect x="21" y="84" width="3.6" height="3.6" fill="#f3f3ff"/>
<rect x="24" y="84" width="3.6" height="3.6" fill="#f6f6ff"/>
<rect x="27" y="84" width="3.6" height="3.6" fill="#f8f8ff"/>
<rect x="30" y="84" width="3.6" height="3.6" fill="#fbfbff"/>
<rect x="33" y="84" width="3.6" height="3.6" fill="#fdfdff"/>
<rect x="36" y="84" width="3.6" height="3.6" fill="#ffffff"/>
<rect x="39" y="84" width="3.6" height="3.6" fill="#fffcfc"/>
<rect x="42" y="84" width="3.6" height="3.6" fill="#fffafa"/>
<rect x="45" y="84" width="3.6" height="3.6" fill="#fff9f9"/>
<rect x="48" y="84" width="6.6" height="3.6" fill="#fff7f7"/>
<rect x="54" y="84" width="3.6" height="3.6" fill="#fff8f8"/>
<rect x="57" y="84" width="3.6" height="3.6" fill="#fffefe"/>
<rect x="60" y="84" width="3.6" height="3.6" fill="#f6f6ff"/>
<rect x="63" y="84" width="3.6" height="3.6" fill="#f0f0ff"/>
<rect x="66" y="84" width="3.6" height="3.6" fill="#ebebff"/>
<rect x="69" y="84" width="3.6" height="3.6" fill="#e5e5ff"/>
<rect x="72" y="84" width="3.6" height="3.6" fill="#dfdfff"/>
<rect x="75" y="84" width="3.6" height="3.6" fill="#d8d8ff"/>
<rect x="78" y="84" width="3.6" height="3.6" fill="#d1d1ff"/>
<rect x="81" y="84" width="3.6" height="3.6" fill="#c8c8ff"/>
<rect x="84" y="84" width="3.6" height="3.6" fill="#c0c0ff"/>
<rect x="87" y="84" width="3.6" height="3.6" fill="#b8b8ff"/>
<rect x="90" y="84" width="3.6" height="3.6" fill="#b2b2ff"/>
<rect x="93" y="84" width="6.6" height="3.6" fill="#afafff"/>
<rect x="99" y="84" width="3.6" height="3.6" fill="#b3b3ff"/>
<rect x="102" y="84" width="3.6" height="3.6" fill="#bbbbff"/>
<rect x="105" y="84" width="3.6" height="3.6" fill="#c5c5ff"/>
<rect x="108" y="84" width="3.6" height="3.6" fill="#d1d1ff"/>
<rect x="111" y="84" width="3.6" height="3.6" fill="#dedeff"/>
<rect x="114" y="84" width="3.6" height="3.6" fill="#e8e8ff"/>
<rect x="117" y="84" width="3.6" height="3.6" fill="#f0f0ff"/>
<rect x="120" y="84" width="3.6" height="3.6" fill="#f5f5ff"/>
<rect x="123" y="84" width="3.6" height="3.6" fill="#f8f8ff"/>
<rect x="126" y="84" width="3.6" height="3.6" fill="#f9f9ff"/>
<rect x="129" y="84" width="18.6" height="3.6" fill="#fafaff"/>
<rect x="0" y="87" width="3.6" height="3.6" fill="#e5e5ff"/>
<rect x="3" y="87" width="3.6" height="3.6" fill="#e6e6ff"/>
<rect x="6" y="87" width="3.6" height="3.6" fill="#e7e7ff"/>
<rect x="9" y="87" width="3.6" height="3.6" fill="#e8e8ff"/>
<rect x="12" y="87" width="3.6" height="3.6" fill="#eaeaff"/>
<rect x="15" y="87" width="3.6" height="3.6" fill="#ececff"/>
<rect x="18" y="87" width="3.6" height="3.6" fill="#eeeeff"/>
<rect x="21" y="87" width="3.6" height="3.6" fill="#f1f1ff"/>
<rect x="24" y="87" width="3.6" height="3.6" fill="#f3f3ff"/>
<rect x="27" y="87" width="3.6" height="3.6" fill="#f6f6ff"/>
<rect x="30" y="87" width="3.6" height="3.6" fill="#f9f9ff"/>
<rect x="33" y="87" width="3.6" height="3.6" fill="#fbfbff"/>
<rect x="36" y="87" width="3.6" height="3.6" fill="#fefeff"/>
<rect x="39" y="87" width="3.6" height="3.6" fill="#fffefe"/>
<rect x="42" y="87" width="3.6" height="3.6" fill="#fffcfc"/>
<rect x="45" y="87" width="3.6" height="3.6" fill="#fffafa"/>
<rect x="48" y="87" width="6.6" height="3.6" fill="#fff9f9"/>
<rect x="54" y="87" width="3.6" height="3.6" fill="#fffbfb"/>
<rect x="57" y="87" width="3.6" height="3.6" fill="#f9f9ff"/>
<rect x="60" y="87" width="3.6" height="3.6" fill="#f2f2ff"/>
<rect x="63" y="87" width="3.6" height="3.6" fill="#ededff"/>
<rect x="66" y="87" width="3.6" height="3.6" fill="#e9e9ff"/>
<rect x="69" y="87" width="3.6" height="3.6" fill="#e4e4ff"/>
<rect x="72" y="87" width="3.6" height="3.6" fill="#dedeff"/>
<rect x="75" y="87" width="3.6" height="3.6" fill="#d7d7ff"/>
<rect x="78" y="87" width="3.6" height="3.6" fill="#d0d0ff"/>
<rect x="81" y="87" width="3.6" height="3.6" fill="#c8c8ff"/>
<rect x="84" y="87" width="3.6" height="3.6" fill="#c0c0ff"/>
<rect x="87" y="87" width="3.6" height="3.6" fill="#b9b9ff"/>
<rect x="90" y="87" width="3.6" height="3.6" fill="#b4b4ff"/>
<rect x="93" y="87" width="6.6" height="3.6" fill="#b1b1ff"/>
<rect x="99" y="87" width="3.6" height="3.6" fill="#b6b6ff"/>
<rect x="102" y="87" width="3.6" height="3.6" fill="#bebeff"/>
<rect x="105" y="87" width="3.6" height="3.6" fill="#c8c8ff"/>
<rect x="108" y="87" width="3.6" height="3.6" fill="#d4d4ff"/>
<rect x="111" y="87" width="3.6" height="3.6" fill="#e0e0ff"/>
<rect x="114" y="87" width="3.6" height="3.6" fill="#eaeaff"/>
<rect x="117" y="87" width="3.6" height="3.6" fill="#f1f1ff"/>
<rect x="120" y="87" width="3.6" height="3.6" fill="#f6f6ff"/>
<rect x="123" y="87" width="3.6" height="3.6" fill="#f8f8ff"/>
<rect x="126" y="87" width="21.6" height="3.6" fill="#fafaff"/>
<rect x="0" y="90" width="6.6" height="3.6" fill="#e3e3ff"/>
<rect x="6" y="90" width="3.6" height="3.6" fill="#e4e4ff"/>
<rect x="9" y="90" width="3.6" height="3.6" fill="#e6e6ff"/>
<rect x="12" y="90" width="3.6" height="3.6" fill="#e7e7ff"/>
<rect x="15" y="90" width="3.6" height="3.6" fill="#eaeaff"/>
<rect x="18" y="90" width="3.6" height="3.6" fill="#ececff"/>
<rect x="21" y="90" width="3.6" height="3.6" fill="#efefff"/>
<rect x="24" y="90" width="3.6" height="3.6" fill="#f1f1ff"/>
<rect x="27" y="90" width="3.6" height="3.6" fill="#f4f4ff"/>
<rect x="30" y="90" width="3.6" height="3.6" fill="#f7f7ff"/>
<rect x="33" y="90" width="3.6" height="3.6" fill="#fafaff"/>
<rect x="36" y="90" width="3.6" height="3.6" fill="#fdfdff"/>
<rect x="39" y="90" width="3.6" height="3.6" fill="#ffffff"/>
<rect x="42" y="90" width="3.6" height="3.6" fill="#fffdfd"/>
<rect x="45" y="90" width="3.6" height="3.6" fill="#fffbfb"/>
<rect x="48" y="90" width="3.6" height="3.6" fill="#fffafa"/>
<rect x="51" y="90" width="3.6" height="3.6" fill="#fffbfb"/>
<rect x="54" y="90" width="3.6" height="3.6" fill="#fcfcff"/>
<rect x="57" y="90" width="3.6" height="3.6" fill="#f4f4ff"/>
<rect x="60" y="90" width="3.6" height="3.6" fill="#efefff"/>
<rect x="63" y="90" width="3.6" height="3.6" fill="#ebebff"/>
<rect x="66" y="90" width="3.6" height="3.6" fill="#e7e7ff"/>
<rect x="69" y="90" width="3.6" height="3.6" fill="#e3e3ff"/>
<rect x="72" y="90" width="3.6" height="3.6" fill="#ddddff"/>
<rect x="75" y="90" width="3.6" height="3.6" fill="#d7d7ff"/>
<rect x="78" y="90" width="3.6" height="3.6" fill="#d0d0ff"/>
<rect x="81" y="90" width="3.6" height="3.6" fill="#c8c8ff"/>
<rect x="84" y="90" width="3.6" height="3.6" fill="#c1c1ff"/>
<rect x="87" y="90" width="3.6" height="3.6" fill="#babaff"/>
<rect x="90" y="90" width="3.6" height="3.6" fill="#b5b5ff"/>
<rect x="93" y="90" width="3.6" height="3.6" fill="#b3b3ff"/>
<rect x="96" y="90" width="3.6" height="3.6" fill="#b4b4ff"/>
<rect x="99" y="90" width="3.6" height="3.6" fill="#b8b8ff"/>
<rect x="102" y="90" width="3.6" height="3.6" fill="#c0c0ff"/>
<rect x="105" y="90" width="3.6" height="3.6" fill="#cbcbff"/>
<rect x="108" y="90" width="3.6" height="3.6" fill="#d7d7ff"/>
<rect x="111" y="90" width="3.6" height="3.6" fill="#e2e2ff"/>
<rect x="114" y="90" width="3.6" height="3.6" fill="#ececff"/>
<rect x="117" y="90" width="3.6" height="3.6" fill="#f2f2ff"/>
<rect x="120" y="90" width="3.6" height="3.6" fill="#f6f6ff"/>
<rect x="123" y="90" width="3.6" height="3.6" fill="#f9f9ff"/>
<rect x="126" y="90" width="21.6" height="3.6" fill="#fafaff"/>
<rect x="0" y="93" width="3.6" height="3.6" fill="#e2e2ff"/>
<rect x="3" y="93" width="3.6" height="3.6" fill="#e3e3ff"/>
<rect x="6" y="93" width="3.6" height="3.6" fill="#e4e4ff"/>
<rect x="9" y="93" width="3.6" height="3.6" fill="#e5e5ff"/>
<rect x="12" y="93" width="3.6" height="3.6" fill="#e7e7ff"/>
<rect x="15" y="93" width="3.6" height="3.6" fill="#e9e9ff"/>
<rect x="18" y="93" width="3.6" height="3.6" fill="#ececff"/>
<rect x="21" y="93" width="3.6" height="3.6" fill="#efefff"/>
<rect x="24" y="93" width="3.6" height="3.6" fill="#f1f1ff"/>
<rect x="27" y="93" width="3.6" height="3.6" fill="#f4f4ff"/>
<rect x="30" y="93" width="3.6" height="3.6" fill="#f7f7ff"/>
<rect x="33" y="93" width="3.6" height="3.6" fill="#fafaff"/>
<rect x="36" y="93" width="3.6" height="3.6" fill="#fdfdff"/>
<rect x="39" y="93" width="3.6" height="3.6" fill="#ffffff"/>
<rect x="42" y="93" width="3.6" height="3.6" fill="#fffdfd"/>
<rect x="45" y="93" width="3.6" height="3.6" fill="#fffbfb"/>
<rect x="48" y="93" width="3.6" height="3.6" fill="#fffafa"/>
<rect x="51" y="93" width="3.6" height="3.6" fill="#fffbfb"/>
<rect x="54" y="93" width="3.6" height="3.6" fill="#fcfcff"/>
<rect x="57" y="93" width="3.6" height="3.6" fill="#f4f4ff"/>
<rect x="60" y="93" width="3.6" height="3.6" fill="#efefff"/>
<rect x="63" y="93" width="3.6" height="3.6" fill="#ebebff"/>
<rect x="66" y="93" width="3.6" height="3.6" fill="#e7e7ff"/>
<rect x="69" y="93" width="3.6" height="3.6" fill="#e3e3ff"/>
<rect x="72" y="93" width="3.6" height="3.6" fill="#ddddff"/>
<rect x="75" y="93" width="3.6" height="3.6" fill="#d7d7ff"/>
<rect x="78" y="93" width="3.6" height="3.6" fill="#d0d0ff"/>
<rect x="81" y="93" width="3.6" height="3.6" fill="#c8c8ff"/>
<rect x="84" y="93" width="3.6" height="3.6" fill="#c1c1ff"/>
<rect x="87" y="93" width="3.6" height="3.6" fill="#babaff"/>
<rect x="90" y="93" width="3.6" height="3.6" fill="#b6b6ff"/>
<rect x="93" y="93" width="3.6" height="3.6" fill="#b3b3ff"/>
<rect x="96" y="93" width="3.6" height="3.6" fill="#b4b4ff"/>
<rect x="99" y="93" width="3.6" height="3.6" fill="#b9b9ff"/>
<rect x="102" y="93" width="3.6" height="3.6" fill="#c1c1ff"/>
<rect x="105" y="93" width="3.6" height="3.6" fill="#cbcbff"/>
<rect x="108" y="93" width="3.6" height="3.6" fill="#d7d7ff"/>
<rect x="111" y="93" width="3.6" height="3.6" fill="#e2e2ff"/>
<rect x="114" y="93" width="3.6" height="3.6" fill="#ececff"/>
<rect x="117" y="93" width="3.6" height="3.6" fill="#f2f2ff"/>
<rect x="120" y="93" width="3.6" height="3.6" fill="#f6f6ff"/>
<rect x="123" y="93" width="3.6" height="3.6" fill="#f9f9ff"/>
<rect x="126" y="93" width="21.6" height="3.6" fill="#fafaff"/>
<rect x="0" y="96" width="3.6" height="3.6" fill="#e5e5ff"/>
<rect x="3" y="96" width="3.6" height="3.6" fill="#e6e6ff"/>
<rect x="6" y="96" width="3.6" height="3.6" fill="#e7e7ff"/>
<rect x="9" y="96" width="3.6" height="3.6" fill="#e8e8ff"/>
<rect x="12" y="96" width="3.6" height="3.6" fill="#eaeaff"/>
<rect x="15" y="96" width="3.6" height="3.6" fill="#ececff"/>
<rect x="18" y="96" width="3.6" height="3.6" fill="#eeeeff"/>
<rect x="21" y="96" width="3.6" height="3.6" fill="#f0f0ff"/>
<rect x="24" y="96" width="3.6" height="3.6" fill="#f3f3ff"/>
<rect x="27" y="96" width="3.6" height="3.6" fill="#f6f6ff"/>
<rect x="30" y="96" width="3.6" height="3.6" fill="#f9f9ff"/>
<rect x="33" y="96" width="3.6" height="3.6" fill="#fbfbff"/>
<rect x="36" y="96" width="3.6" height="3.6" fill="#fefeff"/>
<rect x="39" y="96" width="3.6" height="3.6" fill="#fffefe"/>
<rect x="42" y="96" width="3.6" height="3.6" fill="#fffcfc"/>
<rect x="45" y="96" width="3.6" height="3.6" fill="#fffafa"/>
<rect x="48" y="96" width="6.6" height="3.6" fill="#fff9f9"/>
<rect x="54" y="96" width="3.6" height="3.6" fill="#fffcfc"/>
<rect x="57" y="96" width="3.6" height="3.6" fill="#f8f8ff"/>
<rect x="60" y="96" width="3.6" height="3.6" fill="#f2f2ff"/>
<rect x="63" y="96" width="3.6" height="3.6" fill="#ededff"/>
<rect x="66" y="96" width="3.6" height="3.6" fill="#e9e9ff"/>
<rect x="69" y="96" width="3.6" height="3.6" fill="#e4e4ff"/>
<rect x="72" y="96" width="3.6" height="3.6" fill="#dedeff"/>
<rect x="75" y="96" width="3.6" height="3.6" fill="#d7d7ff"/>
<rect x="78" y="96" width="3.6" height="3.6" fill="#d0d0ff"/>
<rect x="81" y="96" width="3.6" height="3.6" fill="#c8c8ff"/>
<rect x="84" y="96" width="3.6" height="3.6" fill="#c0c0ff"/>
<rect x="87" y="96" width="3.6" height="3.6" fill="#b9b9ff"/>
<rect x="90" y="96" width="3.6" height="3.6" fill="#b4b4ff"/>
<rect x="93" y="96" width="3.6" height="3.6" fill="#b1b1ff"/>
<rect x="96" y="96" width="3.6" height="3.6" fill="#b2b2ff"/>
<rect x="99" y="96" width="3.6" height="3.6" fill="#b6b6ff"/>
<rect x="102" y="96" width="3.6" height="3.6" fill="#bebeff"/>
<rect x="105" y="96" width="3.6" height="3.6" fill="#c8c8ff"/>
<rect x="108" y="96" width="3.6" height="3.6" fill="#d5d5ff"/>
<rect x="111" y="96" width="3.6" height="3.6" fill="#e0e0ff"/>
<rect x="114" y="96" width="3.6" height="3.6" fill="#eaeaff"/>
<rect x="117" y="96" width="3.6" height="3.6" fill="#f1f1ff"/>
<rect x="120" y="96" width="3.6" height="3.6" fill="#f6f6ff"/>
<rect x="123" y="96" width="3.6" height="3.6" fill="#f8f8ff"/>
<rect x="126" y="96" width="21.6" height="3.6" fill="#fafaff"/>
</g></defs>
<rect x="100" y="-5" width="590" height="385" fill="#c6c6ff"/>
<g filter="url(#b15)">
<use href="#q" transform="translate(250.25,93.70) scale(1,1)"/>
<use href="#q" transform="translate(250.25,93.70) scale(1,-1)"/>
<use href="#q" transform="translate(250.25,93.70) scale(-1,1)"/>
<use href="#q" transform="translate(250.25,93.70) scale(-1,-1)"/>
<use href="#q" transform="translate(537.75,93.70) scale(1,1)"/>
<use href="#q" transform="translate(537.75,93.70) scale(1,-1)"/>
<use href="#q" transform="translate(537.75,93.70) scale(-1,1)"/>
<use href="#q" transform="translate(537.75,93.70) scale(-1,-1)"/>
<use href="#q" transform="translate(250.25,279.90) scale(1,1)"/>
<use href="#q" transform="translate(250.25,279.90) scale(1,-1)"/>
<use href="#q" transform="translate(250.25,279.90) scale(-1,1)"/>
<use href="#q" transform="translate(250.25,279.90) scale(-1,-1)"/>
<use href="#q" transform="translate(537.75,279.90) scale(1,1)"/>
<use href="#q" transform="translate(537.75,279.90) scale(1,-1)"/>
<use href="#q" transform="translate(537.75,279.90) scale(-1,1)"/>
<use href="#q" transform="translate(537.75,279.90) scale(-1,-1)"/>
</g>
<circle cx="106.5" cy="0.6" r="24.7" fill="url(#gZr)"/>
<circle cx="394.0" cy="0.6" r="24.7" fill="url(#gZr)"/>
<circle cx="681.5" cy="0.6" r="24.7" fill="url(#gZr)"/>
<circle cx="106.5" cy="186.8" r="24.7" fill="url(#gZr)"/>
<circle cx="394.0" cy="186.8" r="24.7" fill="url(#gZr)"/>
<circle cx="681.5" cy="186.8" r="24.7" fill="url(#gZr)"/>
<circle cx="106.5" cy="373.0" r="24.7" fill="url(#gZr)"/>
<circle cx="394.0" cy="373.0" r="24.7" fill="url(#gZr)"/>
<circle cx="681.5" cy="373.0" r="24.7" fill="url(#gZr)"/>
<circle cx="201.2" cy="94.5" r="14.3" fill="url(#gB)"/>
<circle cx="298.2" cy="94.5" r="14.3" fill="url(#gB)"/>
<circle cx="488.8" cy="94.5" r="14.3" fill="url(#gB)"/>
<circle cx="585.8" cy="94.5" r="14.3" fill="url(#gB)"/>
<circle cx="201.2" cy="280.7" r="14.3" fill="url(#gB)"/>
<circle cx="298.2" cy="280.7" r="14.3" fill="url(#gB)"/>
<circle cx="488.8" cy="280.7" r="14.3" fill="url(#gB)"/>
<circle cx="585.8" cy="280.7" r="14.3" fill="url(#gB)"/>
<rect x="128" y="0.8" width="195" height="1.1" fill="#9a9aea"/>
</g>
<text x="444.8" y="103.6" font-size="36">B</text>
<text x="420.3" y="202.6" font-size="36">Zr</text>
<text x="-0.6" y="39.2" font-size="37.5">(a)</text>
<text x="-0.6" y="424.2" font-size="37.5">(b)</text>
<path d="M1.8,100.6 L8,94 L14.2,100.6 L14.2,341.8 L8,348.4 L1.8,341.8 Z" fill="url(#cb)" stroke="#3a3a3a" stroke-width="0.9"/>
<line x1="16" y1="100.5" x2="20.6" y2="100.5" stroke="#444" stroke-width="1.5"/>
<text x="84.2" y="107.9" font-size="21.7" text-anchor="end">0.150</text>
<line x1="16" y1="160.8" x2="20.6" y2="160.8" stroke="#444" stroke-width="1.5"/>
<text x="84.2" y="168.2" font-size="21.7" text-anchor="end">0.075</text>
<line x1="16" y1="221.2" x2="20.6" y2="221.2" stroke="#444" stroke-width="1.5"/>
<text x="84.2" y="228.6" font-size="21.7" text-anchor="end">0.000</text>
<line x1="16" y1="281.6" x2="20.6" y2="281.6" stroke="#444" stroke-width="1.5"/>
<text x="84.2" y="288.9" font-size="21.7" text-anchor="end">-0.075</text>
<line x1="16" y1="341.9" x2="20.6" y2="341.9" stroke="#444" stroke-width="1.5"/>
<text x="84.2" y="349.3" font-size="21.7" text-anchor="end">-0.150</text>
<clipPath id="pc"><rect x="108.0" y="380.8" width="573.8" height="568.2"/></clipPath>
<g stroke="#111" stroke-width="1.8" fill="none" stroke-linecap="butt">
<rect x="108.0" y="380.8" width="573.8" height="567.0"/>
<line x1="108.0" y1="663.8" x2="681.8" y2="663.8"/>
<line x1="108.0" y1="622.9" x2="114.0" y2="622.9"/>
<line x1="681.8" y1="622.9" x2="675.8" y2="622.9"/>
<line x1="108.0" y1="582.0" x2="119.0" y2="582.0"/>
<line x1="681.8" y1="582.0" x2="670.8" y2="582.0"/>
<line x1="108.0" y1="541.1" x2="114.0" y2="541.1"/>
<line x1="681.8" y1="541.1" x2="675.8" y2="541.1"/>
<line x1="108.0" y1="500.2" x2="119.0" y2="500.2"/>
<line x1="681.8" y1="500.2" x2="670.8" y2="500.2"/>
<line x1="108.0" y1="459.3" x2="114.0" y2="459.3"/>
<line x1="681.8" y1="459.3" x2="675.8" y2="459.3"/>
<line x1="108.0" y1="418.4" x2="119.0" y2="418.4"/>
<line x1="681.8" y1="418.4" x2="670.8" y2="418.4"/>
<line x1="108.0" y1="916.0" x2="114.0" y2="916.0"/>
<line x1="681.8" y1="916.0" x2="675.8" y2="916.0"/>
<line x1="108.0" y1="884.3" x2="119.0" y2="884.3"/>
<line x1="681.8" y1="884.3" x2="670.8" y2="884.3"/>
<line x1="108.0" y1="852.5" x2="114.0" y2="852.5"/>
<line x1="681.8" y1="852.5" x2="675.8" y2="852.5"/>
<line x1="108.0" y1="820.8" x2="119.0" y2="820.8"/>
<line x1="681.8" y1="820.8" x2="670.8" y2="820.8"/>
<line x1="108.0" y1="789.0" x2="114.0" y2="789.0"/>
<line x1="681.8" y1="789.0" x2="675.8" y2="789.0"/>
<line x1="108.0" y1="757.2" x2="119.0" y2="757.2"/>
<line x1="681.8" y1="757.2" x2="670.8" y2="757.2"/>
<line x1="108.0" y1="725.5" x2="114.0" y2="725.5"/>
<line x1="681.8" y1="725.5" x2="675.8" y2="725.5"/>
<line x1="108.0" y1="693.7" x2="119.0" y2="693.7"/>
<line x1="681.8" y1="693.7" x2="670.8" y2="693.7"/>
<line x1="203.3" y1="663.8" x2="203.3" y2="652.3"/>
<line x1="203.3" y1="947.8" x2="203.3" y2="936.3"/>
<line x1="330.7" y1="663.8" x2="330.7" y2="652.3"/>
<line x1="330.7" y1="947.8" x2="330.7" y2="936.3"/>
<line x1="458.2" y1="663.8" x2="458.2" y2="652.3"/>
<line x1="458.2" y1="947.8" x2="458.2" y2="936.3"/>
<line x1="585.7" y1="663.8" x2="585.7" y2="652.3"/>
<line x1="585.7" y1="947.8" x2="585.7" y2="936.3"/>
</g>
<line x1="586.2" y1="384.8" x2="586.2" y2="947.8" stroke="#222" stroke-width="1.6" stroke-dasharray="7.15 6.43"/>
<g clip-path="url(#pc)" fill="none" stroke-width="2.25" stroke-linejoin="round" stroke-linecap="round">
<path d="M108.0,663.8 L109.0,663.8 L110.0,663.8 L111.0,663.8 L112.0,663.8 L113.0,663.8 L114.0,663.8 L115.0,663.8 L116.0,663.8 L117.0,663.8 L118.0,663.8 L119.0,663.8 L120.0,663.8 L121.0,663.8 L122.0,663.8 L123.0,663.8 L124.0,663.8 L125.0,663.8 L126.0,663.8 L127.0,663.8 L128.0,663.8 L129.0,663.8 L130.0,663.8 L131.0,663.8 L132.0,663.8 L133.0,663.8 L134.0,663.8 L135.0,663.8 L136.0,663.8 L137.0,663.8 L138.0,663.8 L139.0,663.8 L140.0,663.8 L141.0,663.8 L142.0,663.8 L143.0,663.8 L144.0,663.8 L145.0,663.8 L146.0,663.8 L147.0,663.8 L148.0,663.8 L149.0,663.8 L150.0,663.8 L151.0,663.8 L152.0,663.8 L153.0,663.8 L154.0,663.8 L155.0,663.7 L156.0,663.7 L157.0,663.7 L158.0,663.7 L159.0,663.7 L160.0,663.7 L161.0,663.7 L162.0,663.7 L163.0,663.7 L164.0,663.7 L165.0,663.7 L166.0,663.8 L167.0,663.8 L168.0,663.8 L169.0,663.8 L170.0,663.8 L171.0,663.8 L172.0,663.7 L173.0,663.6 L174.0,663.4 L175.0,663.1 L176.0,662.8 L177.0,662.3 L178.0,661.8 L179.0,661.2 L180.0,660.5 L181.0,659.9 L182.0,659.2 L183.0,658.6 L184.0,658.0 L185.0,657.5 L186.0,657.0 L187.0,656.4 L188.0,655.9 L189.0,655.2 L190.0,654.3 L191.0,653.3 L192.0,651.9 L193.0,650.1 L194.0,648.0 L195.0,645.5 L196.0,642.6 L197.0,639.6 L198.0,636.5 L199.0,633.4 L200.0,630.3 L201.0,627.5 L202.0,625.1 L203.0,623.3 L204.0,622.3 L205.0,622.1 L206.0,622.6 L207.0,623.6 L208.0,625.0 L209.0,626.7 L210.0,628.4 L211.0,630.0 L212.0,631.2 L213.0,631.9 L214.0,631.8 L215.0,630.9 L216.0,629.3 L217.0,627.2 L218.0,625.0 L219.0,622.8 L220.0,620.9 L221.0,619.2 L222.0,617.8 L223.0,616.5 L224.0,615.4 L225.0,614.4 L226.0,613.5 L227.0,612.8 L228.0,612.1 L229.0,611.5 L230.0,610.9 L231.0,610.2 L232.0,609.2 L233.0,607.9 L234.0,605.9 L235.0,603.0 L236.0,599.0 L237.0,593.6 L238.0,586.7 L239.0,578.5 L240.0,569.8 L241.0,561.4 L242.0,554.0 L243.0,547.9 L244.0,543.1 L245.0,539.6 L246.0,537.3 L247.0,536.1 L248.0,535.9 L249.0,536.7 L250.0,538.1 L251.0,540.1 L252.0,542.6 L253.0,545.4 L254.0,548.6 L255.0,552.0 L256.0,555.7 L257.0,559.5 L258.0,563.6 L259.0,567.9 L260.0,572.6 L261.0,577.6 L262.0,583.1 L263.0,588.9 L264.0,595.0 L265.0,600.8 L266.0,606.1 L267.0,610.3 L268.0,613.4 L269.0,615.3 L270.0,616.2 L271.0,616.2 L272.0,615.0 L273.0,612.3 L274.0,607.8 L275.0,601.2 L276.0,592.7 L277.0,583.0 L278.0,572.9 L279.0,563.0 L280.0,553.8 L281.0,545.5 L282.0,538.2 L283.0,532.0 L284.0,527.2 L285.0,524.0 L286.0,522.6 L287.0,523.2 L288.0,525.8 L289.0,530.4 L290.0,536.9 L291.0,545.0 L292.0,554.5 L293.0,565.1 L294.0,576.2 L295.0,587.6 L296.0,598.8 L297.0,609.4 L298.0,619.1 L299.0,627.5 L300.0,634.2 L301.0,638.9 L302.0,641.6 L303.0,642.7 L304.0,642.5 L305.0,641.5 L306.0,640.0 L307.0,638.3 L308.0,636.7 L309.0,635.2 L310.0,633.9 L311.0,632.8 L312.0,632.0 L313.0,631.6 L314.0,631.5 L315.0,631.7 L316.0,632.2 L317.0,632.8 L318.0,633.6 L319.0,634.3 L320.0,635.1 L321.0,635.8 L322.0,636.5 L323.0,637.1 L324.0,637.7 L325.0,638.2 L326.0,638.7 L327.0,639.2 L328.0,639.6 L329.0,640.1 L330.0,640.5 L331.0,640.9 L332.0,641.3 L333.0,641.6 L334.0,641.9 L335.0,642.1 L336.0,642.2 L337.0,642.3 L338.0,642.1 L339.0,641.6 L340.0,640.6 L341.0,639.1 L342.0,636.8 L343.0,633.8 L344.0,629.8 L345.0,624.8 L346.0,619.2 L347.0,613.2 L348.0,607.1 L349.0,601.4 L350.0,596.0 L351.0,591.2 L352.0,586.8 L353.0,583.2 L354.0,580.3 L355.0,578.5 L356.0,577.7 L357.0,578.3 L358.0,580.3 L359.0,583.7 L360.0,588.5 L361.0,594.3 L362.0,601.1 L363.0,608.5 L364.0,616.0 L365.0,623.2 L366.0,629.6 L367.0,635.0 L368.0,639.6 L369.0,643.3 L370.0,646.4 L371.0,648.7 L372.0,650.5 L373.0,651.6 L374.0,652.1 L375.0,652.1 L376.0,651.6 L377.0,650.7 L378.0,649.7 L379.0,648.5 L380.0,647.2 L381.0,646.0 L382.0,645.0 L383.0,644.2 L384.0,643.7 L385.0,643.4 L386.0,643.4 L387.0,643.6 L388.0,644.0 L389.0,644.4 L390.0,645.0 L391.0,645.6 L392.0,646.3 L393.0,647.1 L394.0,647.9 L395.0,648.7 L396.0,649.5 L397.0,650.3 L398.0,651.1 L399.0,651.8 L400.0,652.5 L401.0,653.2 L402.0,653.7 L403.0,654.2 L404.0,654.4 L405.0,654.5 L406.0,654.3 L407.0,653.9 L408.0,653.3 L409.0,652.4 L410.0,651.4 L411.0,650.2 L412.0,649.0 L413.0,647.6 L414.0,646.2 L415.0,644.8 L416.0,643.4 L417.0,642.0 L418.0,640.6 L419.0,639.1 L420.0,637.8 L421.0,636.6 L422.0,635.6 L423.0,634.9 L424.0,634.5 L425.0,634.5 L426.0,634.8 L427.0,635.5 L428.0,636.4 L429.0,637.5 L430.0,638.8 L431.0,640.2 L432.0,641.5 L433.0,642.8 L434.0,644.1 L435.0,645.4 L436.0,646.6 L437.0,647.8 L438.0,648.9 L439.0,650.0 L440.0,651.1 L441.0,652.1 L442.0,653.0 L443.0,653.8 L444.0,654.5 L445.0,655.1 L446.0,655.5 L447.0,655.9 L448.0,656.2 L449.0,656.3 L450.0,656.4 L451.0,656.4 L452.0,656.3 L453.0,656.1 L454.0,655.9 L455.0,655.7 L456.0,655.4 L457.0,655.1 L458.0,654.8 L459.0,654.5 L460.0,654.3 L461.0,654.0 L462.0,653.8 L463.0,653.6 L464.0,653.4 L465.0,653.2 L466.0,653.1 L467.0,652.9 L468.0,652.8 L469.0,652.7 L470.0,652.6 L471.0,652.6 L472.0,652.5 L473.0,652.5 L474.0,652.5 L475.0,652.6 L476.0,652.7 L477.0,652.8 L478.0,653.0 L479.0,653.2 L480.0,653.5 L481.0,653.9 L482.0,654.3 L483.0,654.7 L484.0,655.2 L485.0,655.8 L486.0,656.4 L487.0,657.0 L488.0,657.6 L489.0,658.2 L490.0,658.8 L491.0,659.3 L492.0,659.8 L493.0,660.3 L494.0,660.7 L495.0,661.1 L496.0,661.5 L497.0,661.8 L498.0,662.1 L499.0,662.3 L500.0,662.5 L501.0,662.7 L502.0,662.8 L503.0,662.9 L504.0,662.9 L505.0,662.9 L506.0,662.9 L507.0,662.9 L508.0,662.8 L509.0,662.7 L510.0,662.6 L511.0,662.4 L512.0,662.3 L513.0,662.1 L514.0,662.0 L515.0,662.0 L516.0,662.0 L517.0,662.1 L518.0,662.2 L519.0,662.4 L520.0,662.5 L521.0,662.7 L522.0,662.9 L523.0,663.0 L524.0,663.2 L525.0,663.3 L526.0,663.4 L527.0,663.5 L528.0,663.5 L529.0,663.6 L530.0,663.6 L531.0,663.6 L532.0,663.7 L533.0,663.7 L534.0,663.7 L535.0,663.7 L536.0,663.7 L537.0,663.7 L538.0,663.6 L539.0,663.6 L540.0,663.6 L541.0,663.6 L542.0,663.6 L543.0,663.5 L544.0,663.5 L545.0,663.5 L546.0,663.5 L547.0,663.5 L548.0,663.5 L549.0,663.4 L550.0,663.4 L551.0,663.4 L552.0,663.4 L553.0,663.4 L554.0,663.3 L555.0,663.3 L556.0,663.3 L557.0,663.2 L558.0,663.2 L559.0,663.1 L560.0,663.0 L561.0,662.9 L562.0,662.8 L563.0,662.6 L564.0,662.5 L565.0,662.4 L566.0,662.2 L567.0,662.1 L568.0,662.0 L569.0,662.0 L570.0,662.0 L571.0,662.1 L572.0,662.2 L573.0,662.3 L574.0,662.5 L575.0,662.7 L576.0,662.9 L577.0,663.1 L578.0,663.2 L579.0,663.4 L580.0,663.5 L581.0,663.6 L582.0,663.7 L583.0,663.7 L584.0,663.7 L585.0,663.8 L586.0,663.8 L587.0,663.8 L588.0,663.8 L589.0,663.8 L590.0,663.8 L591.0,663.8 L592.0,663.8 L593.0,663.7 L594.0,663.7 L595.0,663.7 L596.0,663.7 L597.0,663.6 L598.0,663.6 L599.0,663.6 L600.0,663.6 L601.0,663.6 L602.0,663.6 L603.0,663.6 L604.0,663.6 L605.0,663.7 L606.0,663.7 L607.0,663.7 L608.0,663.7 L609.0,663.8 L610.0,663.8 L611.0,663.8 L612.0,663.8 L613.0,663.8 L614.0,663.8 L615.0,663.8 L616.0,663.8 L617.0,663.8 L618.0,663.8 L619.0,663.8 L620.0,663.8 L621.0,663.7 L622.0,663.6 L623.0,663.5 L624.0,663.3 L625.0,663.2 L626.0,663.0 L627.0,662.9 L628.0,662.7 L629.0,662.4 L630.0,662.2 L631.0,662.0 L632.0,661.7 L633.0,661.5 L634.0,661.2 L635.0,661.0 L636.0,660.8 L637.0,660.5 L638.0,660.3 L639.0,660.2 L640.0,660.1 L641.0,660.1 L642.0,660.2 L643.0,660.4 L644.0,660.8 L645.0,661.1 L646.0,661.5 L647.0,661.9 L648.0,662.3 L649.0,662.8 L650.0,663.1 L651.0,663.4 L652.0,663.6 L653.0,663.8 L654.0,663.8 L655.0,663.8 L656.0,663.8 L657.0,663.8 L658.0,663.8 L659.0,663.8 L660.0,663.8 L661.0,663.8 L662.0,663.7 L663.0,663.7 L664.0,663.7 L665.0,663.7 L666.0,663.7 L667.0,663.7 L668.0,663.7 L669.0,663.7 L670.0,663.7 L671.0,663.7 L672.0,663.7 L673.0,663.7 L674.0,663.7 L675.0,663.7 L676.0,663.7 L677.0,663.7 L678.0,663.7 L679.0,663.8 L680.0,663.8 L681.0,663.8 L682.0,663.8" stroke="#f400f0"/>
<path d="M108.0,663.8 L109.0,663.8 L110.0,663.8 L111.0,663.8 L112.0,663.8 L113.0,663.8 L114.0,663.8 L115.0,663.8 L116.0,663.8 L117.0,663.8 L118.0,663.8 L119.0,663.8 L120.0,663.8 L121.0,663.8 L122.0,663.8 L123.0,663.8 L124.0,663.8 L125.0,663.8 L126.0,663.8 L127.0,663.8 L128.0,663.8 L129.0,663.8 L130.0,663.8 L131.0,663.8 L132.0,663.8 L133.0,663.8 L134.0,663.8 L135.0,663.8 L136.0,663.8 L137.0,663.8 L138.0,663.8 L139.0,663.8 L140.0,663.8 L141.0,663.8 L142.0,663.8 L143.0,663.8 L144.0,663.8 L145.0,663.8 L146.0,663.8 L147.0,663.8 L148.0,663.8 L149.0,663.8 L150.0,663.8 L151.0,663.8 L152.0,663.8 L153.0,663.8 L154.0,663.8 L155.0,663.7 L156.0,663.7 L157.0,663.7 L158.0,663.7 L159.0,663.7 L160.0,663.7 L161.0,663.7 L162.0,663.7 L163.0,663.7 L164.0,663.7 L165.0,663.7 L166.0,663.7 L167.0,663.7 L168.0,663.7 L169.0,663.7 L170.0,663.7 L171.0,663.7 L172.0,663.7 L173.0,663.7 L174.0,663.7 L175.0,663.7 L176.0,663.7 L177.0,663.7 L178.0,663.7 L179.0,663.8 L180.0,663.8 L181.0,663.8 L182.0,663.8 L183.0,663.8 L184.0,663.8 L185.0,663.8 L186.0,663.8 L187.0,663.8 L188.0,663.7 L189.0,663.5 L190.0,663.2 L191.0,662.9 L192.0,662.6 L193.0,662.2 L194.0,661.7 L195.0,661.2 L196.0,660.7 L197.0,660.2 L198.0,659.7 L199.0,659.3 L200.0,658.8 L201.0,658.4 L202.0,658.1 L203.0,657.9 L204.0,657.9 L205.0,657.9 L206.0,658.0 L207.0,658.2 L208.0,658.5 L209.0,658.8 L210.0,659.1 L211.0,659.3 L212.0,659.5 L213.0,659.6 L214.0,659.6 L215.0,659.4 L216.0,659.0 L217.0,658.6 L218.0,658.0 L219.0,657.4 L220.0,656.7 L221.0,656.0 L222.0,655.2 L223.0,654.5 L224.0,653.8 L225.0,653.1 L226.0,652.4 L227.0,651.7 L228.0,651.0 L229.0,650.3 L230.0,649.6 L231.0,648.8 L232.0,647.9 L233.0,646.9 L234.0,645.8 L235.0,644.5 L236.0,643.1 L237.0,641.5 L238.0,639.8 L239.0,638.0 L240.0,636.2 L241.0,634.4 L242.0,632.6 L243.0,631.0 L244.0,629.4 L245.0,627.9 L246.0,626.5 L247.0,625.3 L248.0,624.3 L249.0,623.5 L250.0,623.0 L251.0,622.9 L252.0,623.0 L253.0,623.5 L254.0,624.2 L255.0,625.2 L256.0,626.4 L257.0,627.7 L258.0,629.1 L259.0,630.6 L260.0,632.3 L261.0,634.0 L262.0,635.8 L263.0,637.5 L264.0,639.2 L265.0,640.8 L266.0,642.2 L267.0,643.4 L268.0,644.2 L269.0,644.5 L270.0,644.2 L271.0,643.1 L272.0,641.2 L273.0,638.4 L274.0,634.8 L275.0,630.4 L276.0,625.1 L277.0,619.4 L278.0,613.3 L279.0,607.3 L280.0,601.5 L281.0,596.2 L282.0,591.4 L283.0,587.2 L284.0,583.8 L285.0,581.3 L286.0,579.8 L287.0,579.4 L288.0,580.2 L289.0,582.2 L290.0,585.4 L291.0,589.6 L292.0,594.6 L293.0,600.6 L294.0,607.1 L295.0,614.1 L296.0,621.0 L297.0,627.3 L298.0,632.5 L299.0,636.6 L300.0,639.6 L301.0,641.5 L302.0,642.5 L303.0,642.7 L304.0,642.3 L305.0,641.5 L306.0,640.4 L307.0,639.2 L308.0,638.2 L309.0,637.4 L310.0,637.0 L311.0,637.1 L312.0,637.4 L313.0,638.1 L314.0,638.9 L315.0,639.7 L316.0,640.4 L317.0,640.9 L318.0,641.0 L319.0,640.9 L320.0,640.5 L321.0,639.9 L322.0,639.2 L323.0,638.3 L324.0,637.5 L325.0,636.7 L326.0,636.0 L327.0,635.5 L328.0,635.3 L329.0,635.3 L330.0,635.7 L331.0,636.3 L332.0,637.0 L333.0,637.9 L334.0,638.8 L335.0,639.6 L336.0,640.3 L337.0,640.9 L338.0,641.1 L339.0,640.9 L340.0,639.9 L341.0,637.8 L342.0,634.0 L343.0,628.4 L344.0,620.9 L345.0,611.9 L346.0,601.7 L347.0,591.0 L348.0,580.0 L349.0,569.1 L350.0,558.4 L351.0,548.5 L352.0,539.6 L353.0,532.3 L354.0,526.9 L355.0,523.8 L356.0,522.6 L357.0,523.4 L358.0,526.0 L359.0,530.5 L360.0,536.8 L361.0,544.8 L362.0,554.4 L363.0,565.1 L364.0,576.0 L365.0,586.3 L366.0,595.0 L367.0,602.1 L368.0,607.4 L369.0,611.2 L370.0,613.8 L371.0,615.3 L372.0,615.9 L373.0,616.0 L374.0,615.6 L375.0,614.9 L376.0,613.8 L377.0,612.3 L378.0,610.5 L379.0,608.2 L380.0,605.6 L381.0,602.7 L382.0,599.5 L383.0,596.1 L384.0,592.6 L385.0,589.1 L386.0,585.5 L387.0,581.9 L388.0,578.3 L389.0,574.8 L390.0,571.6 L391.0,569.0 L392.0,567.1 L393.0,566.2 L394.0,566.5 L395.0,567.9 L396.0,570.2 L397.0,573.2 L398.0,576.7 L399.0,580.4 L400.0,584.2 L401.0,588.0 L402.0,591.6 L403.0,595.0 L404.0,598.0 L405.0,600.4 L406.0,602.0 L407.0,602.4 L408.0,601.5 L409.0,599.2 L410.0,595.6 L411.0,591.1 L412.0,585.8 L413.0,579.9 L414.0,573.2 L415.0,565.6 L416.0,557.1 L417.0,547.6 L418.0,537.1 L419.0,525.7 L420.0,513.4 L421.0,500.4 L422.0,486.8 L423.0,473.1 L424.0,459.6 L425.0,447.1 L426.0,436.1 L427.0,427.0 L428.0,420.2 L429.0,415.6 L430.0,413.6 L431.0,414.1 L432.0,417.0 L433.0,422.2 L434.0,429.6 L435.0,438.7 L436.0,449.5 L437.0,461.6 L438.0,474.5 L439.0,487.5 L440.0,500.0 L441.0,511.4 L442.0,521.5 L443.0,530.1 L444.0,537.4 L445.0,543.6 L446.0,548.7 L447.0,552.9 L448.0,556.3 L449.0,558.9 L450.0,560.8 L451.0,562.0 L452.0,562.5 L453.0,562.2 L454.0,561.1 L455.0,558.9 L456.0,555.6 L457.0,550.9 L458.0,545.0 L459.0,537.9 L460.0,529.9 L461.0,521.1 L462.0,511.8 L463.0,502.0 L464.0,491.9 L465.0,481.5 L466.0,470.9 L467.0,460.3 L468.0,449.9 L469.0,440.0 L470.0,430.6 L471.0,422.2 L472.0,414.7 L473.0,408.2 L474.0,402.4 L475.0,397.3 L476.0,392.9 L477.0,389.5 L478.0,387.4 L479.0,387.0 L480.0,388.4 L481.0,391.9 L482.0,397.2 L483.0,404.0 L484.0,412.1 L485.0,421.1 L486.0,430.4 L487.0,439.7 L488.0,448.6 L489.0,457.0 L490.0,464.7 L491.0,471.7 L492.0,478.1 L493.0,483.7 L494.0,488.5 L495.0,492.2 L496.0,494.6 L497.0,495.5 L498.0,494.9 L499.0,493.1 L500.0,490.4 L501.0,487.0 L502.0,483.2 L503.0,479.2 L504.0,475.0 L505.0,471.0 L506.0,467.5 L507.0,465.0 L508.0,464.0 L509.0,465.1 L510.0,468.6 L511.0,474.2 L512.0,481.5 L513.0,489.9 L514.0,498.9 L515.0,507.9 L516.0,516.7 L517.0,525.2 L518.0,533.5 L519.0,541.7 L520.0,549.6 L521.0,557.3 L522.0,564.5 L523.0,571.0 L524.0,576.6 L525.0,581.3 L526.0,585.0 L527.0,588.0 L528.0,590.5 L529.0,592.6 L530.0,594.7 L531.0,596.8 L532.0,599.0 L533.0,601.1 L534.0,603.1 L535.0,605.0 L536.0,606.7 L537.0,607.9 L538.0,608.8 L539.0,609.1 L540.0,608.8 L541.0,608.0 L542.0,606.6 L543.0,604.8 L544.0,602.7 L545.0,600.3 L546.0,597.7 L547.0,594.9 L548.0,592.0 L549.0,589.1 L550.0,586.3 L551.0,584.0 L552.0,582.2 L553.0,581.4 L554.0,581.6 L555.0,583.0 L556.0,585.3 L557.0,588.1 L558.0,591.1 L559.0,594.0 L560.0,596.6 L561.0,598.7 L562.0,600.5 L563.0,601.9 L564.0,603.0 L565.0,603.6 L566.0,603.7 L567.0,603.3 L568.0,602.5 L569.0,601.6 L570.0,601.1 L571.0,601.2 L572.0,602.1 L573.0,603.8 L574.0,606.3 L575.0,609.4 L576.0,613.0 L577.0,617.1 L578.0,621.6 L579.0,626.3 L580.0,630.9 L581.0,635.4 L582.0,639.4 L583.0,642.8 L584.0,645.5 L585.0,647.6 L586.0,649.0 L587.0,649.8 L588.0,649.9 L589.0,649.5 L590.0,648.5 L591.0,646.8 L592.0,644.6 L593.0,641.8 L594.0,638.5 L595.0,634.7 L596.0,630.6 L597.0,626.4 L598.0,622.1 L599.0,617.9 L600.0,613.9 L601.0,610.0 L602.0,606.5 L603.0,603.4 L604.0,601.0 L605.0,599.4 L606.0,598.8 L607.0,599.2 L608.0,600.5 L609.0,602.8 L610.0,605.7 L611.0,609.2 L612.0,613.0 L613.0,617.1 L614.0,621.4 L615.0,625.8 L616.0,630.1 L617.0,634.2 L618.0,638.0 L619.0,641.2 L620.0,643.8 L621.0,645.9 L622.0,647.3 L623.0,648.3 L624.0,648.8 L625.0,648.9 L626.0,648.8 L627.0,648.3 L628.0,647.6 L629.0,646.8 L630.0,645.9 L631.0,644.9 L632.0,644.0 L633.0,643.2 L634.0,642.5 L635.0,642.1 L636.0,642.0 L637.0,642.1 L638.0,642.5 L639.0,643.1 L640.0,644.0 L641.0,645.0 L642.0,646.1 L643.0,647.4 L644.0,648.9 L645.0,650.5 L646.0,652.2 L647.0,653.9 L648.0,655.6 L649.0,657.1 L650.0,658.5 L651.0,659.8 L652.0,660.8 L653.0,661.6 L654.0,662.3 L655.0,662.8 L656.0,663.2 L657.0,663.4 L658.0,663.6 L659.0,663.7 L660.0,663.8 L661.0,663.8 L662.0,663.8 L663.0,663.8 L664.0,663.8 L665.0,663.8 L666.0,663.8 L667.0,663.8 L668.0,663.8 L669.0,663.7 L670.0,663.7 L671.0,663.7 L672.0,663.7 L673.0,663.7 L674.0,663.7 L675.0,663.8 L676.0,663.8 L677.0,663.8 L678.0,663.8 L679.0,663.8 L680.0,663.8 L681.0,663.8 L682.0,663.8" stroke="#0808e8"/>
<path d="M108.0,947.8 L109.0,947.8 L110.0,947.8 L111.0,947.8 L112.0,947.8 L113.0,947.8 L114.0,947.8 L115.0,947.8 L116.0,947.8 L117.0,947.8 L118.0,947.8 L119.0,947.8 L120.0,947.8 L121.0,947.8 L122.0,947.8 L123.0,947.8 L124.0,947.8 L125.0,947.8 L126.0,947.8 L127.0,947.8 L128.0,947.8 L129.0,947.8 L130.0,947.8 L131.0,947.8 L132.0,947.8 L133.0,947.8 L134.0,947.8 L135.0,947.8 L136.0,947.8 L137.0,947.8 L138.0,947.8 L139.0,947.8 L140.0,947.8 L141.0,947.8 L142.0,947.8 L143.0,947.8 L144.0,947.8 L145.0,947.8 L146.0,947.8 L147.0,947.8 L148.0,947.8 L149.0,947.8 L150.0,947.8 L151.0,947.8 L152.0,947.8 L153.0,947.8 L154.0,947.8 L155.0,947.8 L156.0,947.8 L157.0,947.8 L158.0,947.8 L159.0,947.8 L160.0,947.8 L161.0,947.8 L162.0,947.8 L163.0,947.8 L164.0,947.8 L165.0,947.8 L166.0,947.8 L167.0,947.8 L168.0,947.8 L169.0,947.8 L170.0,947.8 L171.0,947.8 L172.0,947.8 L173.0,947.8 L174.0,947.8 L175.0,947.8 L176.0,947.8 L177.0,947.8 L178.0,947.8 L179.0,947.8 L180.0,947.8 L181.0,947.8 L182.0,947.8 L183.0,947.8 L184.0,947.8 L185.0,947.8 L186.0,947.8 L187.0,947.8 L188.0,947.8 L189.0,947.8 L190.0,947.8 L191.0,947.8 L192.0,947.8 L193.0,947.8 L194.0,947.8 L195.0,947.8 L196.0,947.8 L197.0,947.8 L198.0,947.8 L199.0,947.8 L200.0,947.8 L201.0,947.8 L202.0,947.8 L203.0,947.8 L204.0,947.8 L205.0,947.8 L206.0,947.7 L207.0,947.7 L208.0,947.7 L209.0,947.7 L210.0,947.7 L211.0,947.7 L212.0,947.7 L213.0,947.7 L214.0,947.7 L215.0,947.6 L216.0,947.6 L217.0,947.6 L218.0,947.6 L219.0,947.6 L220.0,947.6 L221.0,947.6 L222.0,947.6 L223.0,947.5 L224.0,947.5 L225.0,947.5 L226.0,947.5 L227.0,947.5 L228.0,947.5 L229.0,947.5 L230.0,947.5 L231.0,947.5 L232.0,947.4 L233.0,947.4 L234.0,947.4 L235.0,947.4 L236.0,947.4 L237.0,947.4 L238.0,947.4 L239.0,947.4 L240.0,947.4 L241.0,947.4 L242.0,947.3 L243.0,947.3 L244.0,947.3 L245.0,947.3 L246.0,947.3 L247.0,947.3 L248.0,947.3 L249.0,947.3 L250.0,947.3 L251.0,947.3 L252.0,947.3 L253.0,947.3 L254.0,947.3 L255.0,947.3 L256.0,947.3 L257.0,947.3 L258.0,947.3 L259.0,947.3 L260.0,947.3 L261.0,947.3 L262.0,947.3 L263.0,947.3 L264.0,947.3 L265.0,947.3 L266.0,947.3 L267.0,947.3 L268.0,947.3 L269.0,947.3 L270.0,947.3 L271.0,947.3 L272.0,947.3 L273.0,947.3 L274.0,947.3 L275.0,947.3 L276.0,947.3 L277.0,947.3 L278.0,947.3 L279.0,947.3 L280.0,947.4 L281.0,947.4 L282.0,947.4 L283.0,947.4 L284.0,947.4 L285.0,947.4 L286.0,947.5 L287.0,947.5 L288.0,947.5 L289.0,947.5 L290.0,947.5 L291.0,947.6 L292.0,947.6 L293.0,947.6 L294.0,947.6 L295.0,947.7 L296.0,947.7 L297.0,947.7 L298.0,947.7 L299.0,947.8 L300.0,947.8 L301.0,947.8 L302.0,947.8 L303.0,947.8 L304.0,947.8 L305.0,947.8 L306.0,947.8 L307.0,947.8 L308.0,947.8 L309.0,947.8 L310.0,947.8 L311.0,947.8 L312.0,947.8 L313.0,947.8 L314.0,947.8 L315.0,947.8 L316.0,947.8 L317.0,947.8 L318.0,947.8 L319.0,947.8 L320.0,947.8 L321.0,947.8 L322.0,947.8 L323.0,947.8 L324.0,947.8 L325.0,947.8 L326.0,947.8 L327.0,947.8 L328.0,947.8 L329.0,947.8 L330.0,947.8 L331.0,947.8 L332.0,947.8 L333.0,947.8 L334.0,947.8 L335.0,947.8 L336.0,947.8 L337.0,947.8 L338.0,947.8 L339.0,947.8 L340.0,947.8 L341.0,947.7 L342.0,947.6 L343.0,947.5 L344.0,947.3 L345.0,947.2 L346.0,947.0 L347.0,946.8 L348.0,946.6 L349.0,946.4 L350.0,946.2 L351.0,946.0 L352.0,945.9 L353.0,945.8 L354.0,945.8 L355.0,945.8 L356.0,945.8 L357.0,945.9 L358.0,946.0 L359.0,946.1 L360.0,946.3 L361.0,946.4 L362.0,946.6 L363.0,946.8 L364.0,947.0 L365.0,947.1 L366.0,947.3 L367.0,947.4 L368.0,947.5 L369.0,947.6 L370.0,947.6 L371.0,947.6 L372.0,947.6 L373.0,947.6 L374.0,947.6 L375.0,947.5 L376.0,947.4 L377.0,947.3 L378.0,947.1 L379.0,947.0 L380.0,946.8 L381.0,946.5 L382.0,946.3 L383.0,946.0 L384.0,945.7 L385.0,945.3 L386.0,944.9 L387.0,944.5 L388.0,944.2 L389.0,943.9 L390.0,943.6 L391.0,943.5 L392.0,943.4 L393.0,943.4 L394.0,943.5 L395.0,943.7 L396.0,943.9 L397.0,944.1 L398.0,944.4 L399.0,944.7 L400.0,945.0 L401.0,945.3 L402.0,945.6 L403.0,945.9 L404.0,946.2 L405.0,946.5 L406.0,946.7 L407.0,946.9 L408.0,947.0 L409.0,947.1 L410.0,947.1 L411.0,947.0 L412.0,946.8 L413.0,946.6 L414.0,946.3 L415.0,945.9 L416.0,945.5 L417.0,945.1 L418.0,944.6 L419.0,944.1 L420.0,943.6 L421.0,943.0 L422.0,942.5 L423.0,941.9 L424.0,941.3 L425.0,940.7 L426.0,940.1 L427.0,939.5 L428.0,939.0 L429.0,938.6 L430.0,938.2 L431.0,938.0 L432.0,937.9 L433.0,937.9 L434.0,938.1 L435.0,938.5 L436.0,938.9 L437.0,939.3 L438.0,939.8 L439.0,940.2 L440.0,940.5 L441.0,940.7 L442.0,940.9 L443.0,941.0 L444.0,941.0 L445.0,941.1 L446.0,941.1 L447.0,941.1 L448.0,941.1 L449.0,941.1 L450.0,941.2 L451.0,941.3 L452.0,941.5 L453.0,941.7 L454.0,942.0 L455.0,942.3 L456.0,942.5 L457.0,942.6 L458.0,942.6 L459.0,942.4 L460.0,942.2 L461.0,941.8 L462.0,941.3 L463.0,940.8 L464.0,940.3 L465.0,939.7 L466.0,939.2 L467.0,938.7 L468.0,938.1 L469.0,937.6 L470.0,937.2 L471.0,936.7 L472.0,936.3 L473.0,936.0 L474.0,935.7 L475.0,935.5 L476.0,935.4 L477.0,935.4 L478.0,935.5 L479.0,935.7 L480.0,936.0 L481.0,936.5 L482.0,937.0 L483.0,937.6 L484.0,938.3 L485.0,939.0 L486.0,939.7 L487.0,940.5 L488.0,941.2 L489.0,942.0 L490.0,942.8 L491.0,943.5 L492.0,944.2 L493.0,944.8 L494.0,945.3 L495.0,945.8 L496.0,946.1 L497.0,946.4 L498.0,946.7 L499.0,946.9 L500.0,947.1 L501.0,947.2 L502.0,947.3 L503.0,947.4 L504.0,947.4 L505.0,947.5 L506.0,947.6 L507.0,947.6 L508.0,947.6 L509.0,947.7 L510.0,947.7 L511.0,947.7 L512.0,947.7 L513.0,947.7 L514.0,947.8 L515.0,947.8 L516.0,947.8 L517.0,947.8 L518.0,947.8 L519.0,947.8 L520.0,947.8 L521.0,947.8 L522.0,947.8 L523.0,947.8 L524.0,947.8 L525.0,947.8 L526.0,947.8 L527.0,947.8 L528.0,947.8 L529.0,947.8 L530.0,947.8 L531.0,947.8 L532.0,947.8 L533.0,947.8 L534.0,947.8 L535.0,947.8 L536.0,947.7 L537.0,947.7 L538.0,947.7 L539.0,947.7 L540.0,947.7 L541.0,947.7 L542.0,947.7 L543.0,947.7 L544.0,947.7 L545.0,947.7 L546.0,947.7 L547.0,947.7 L548.0,947.7 L549.0,947.7 L550.0,947.7 L551.0,947.7 L552.0,947.7 L553.0,947.7 L554.0,947.7 L555.0,947.7 L556.0,947.8 L557.0,947.8 L558.0,947.8 L559.0,947.8 L560.0,947.8 L561.0,947.8 L562.0,947.8 L563.0,947.8 L564.0,947.8 L565.0,947.8 L566.0,947.8 L567.0,947.8 L568.0,947.8 L569.0,947.8 L570.0,947.8 L571.0,947.8 L572.0,947.8 L573.0,947.8 L574.0,947.8 L575.0,947.8 L576.0,947.8 L577.0,947.8 L578.0,947.8 L579.0,947.8 L580.0,947.8 L581.0,947.8 L582.0,947.8 L583.0,947.8 L584.0,947.8 L585.0,947.8 L586.0,947.8 L587.0,947.8 L588.0,947.8 L589.0,947.8 L590.0,947.8 L591.0,947.8 L592.0,947.8 L593.0,947.7 L594.0,947.7 L595.0,947.6 L596.0,947.5 L597.0,947.4 L598.0,947.3 L599.0,947.2 L600.0,947.1 L601.0,947.0 L602.0,946.9 L603.0,946.8 L604.0,946.8 L605.0,946.8 L606.0,946.9 L607.0,947.0 L608.0,947.1 L609.0,947.2 L610.0,947.3 L611.0,947.4 L612.0,947.5 L613.0,947.6 L614.0,947.7 L615.0,947.7 L616.0,947.8 L617.0,947.8 L618.0,947.8 L619.0,947.8 L620.0,947.8 L621.0,947.8 L622.0,947.8 L623.0,947.8 L624.0,947.8 L625.0,947.8 L626.0,947.8 L627.0,947.8 L628.0,947.8 L629.0,947.8 L630.0,947.8 L631.0,947.8 L632.0,947.8 L633.0,947.8 L634.0,947.8 L635.0,947.7 L636.0,947.7 L637.0,947.7 L638.0,947.7 L639.0,947.7 L640.0,947.7 L641.0,947.7 L642.0,947.7 L643.0,947.7 L644.0,947.7 L645.0,947.7 L646.0,947.7 L647.0,947.7 L648.0,947.7 L649.0,947.7 L650.0,947.7 L651.0,947.7 L652.0,947.7 L653.0,947.7 L654.0,947.7 L655.0,947.7 L656.0,947.7 L657.0,947.7 L658.0,947.7 L659.0,947.7 L660.0,947.7 L661.0,947.7 L662.0,947.7 L663.0,947.7 L664.0,947.7 L665.0,947.7 L666.0,947.7 L667.0,947.7 L668.0,947.7 L669.0,947.7 L670.0,947.7 L671.0,947.7 L672.0,947.8 L673.0,947.8 L674.0,947.8 L675.0,947.8 L676.0,947.8 L677.0,947.8 L678.0,947.8 L679.0,947.8 L680.0,947.8 L681.0,947.8 L682.0,947.8" stroke="#f400f0"/>
<path d="M108.0,947.8 L109.0,947.8 L110.0,947.8 L111.0,947.8 L112.0,947.8 L113.0,947.8 L114.0,947.8 L115.0,947.8 L116.0,947.8 L117.0,947.8 L118.0,947.8 L119.0,947.8 L120.0,947.8 L121.0,947.8 L122.0,947.8 L123.0,947.8 L124.0,947.8 L125.0,947.8 L126.0,947.8 L127.0,947.8 L128.0,947.8 L129.0,947.8 L130.0,947.8 L131.0,947.8 L132.0,947.8 L133.0,947.8 L134.0,947.8 L135.0,947.8 L136.0,947.8 L137.0,947.8 L138.0,947.8 L139.0,947.8 L140.0,947.8 L141.0,947.8 L142.0,947.8 L143.0,947.8 L144.0,947.8 L145.0,947.8 L146.0,947.8 L147.0,947.8 L148.0,947.8 L149.0,947.8 L150.0,947.8 L151.0,947.8 L152.0,947.8 L153.0,947.8 L154.0,947.8 L155.0,947.8 L156.0,947.7 L157.0,947.7 L158.0,947.7 L159.0,947.7 L160.0,947.7 L161.0,947.7 L162.0,947.7 L163.0,947.7 L164.0,947.7 L165.0,947.7 L166.0,947.6 L167.0,947.6 L168.0,947.6 L169.0,947.6 L170.0,947.6 L171.0,947.6 L172.0,947.6 L173.0,947.6 L174.0,947.6 L175.0,947.6 L176.0,947.6 L177.0,947.7 L178.0,947.7 L179.0,947.7 L180.0,947.7 L181.0,947.7 L182.0,947.7 L183.0,947.8 L184.0,947.8 L185.0,947.8 L186.0,947.8 L187.0,947.8 L188.0,947.8 L189.0,947.7 L190.0,947.6 L191.0,947.4 L192.0,947.1 L193.0,946.6 L194.0,946.0 L195.0,945.3 L196.0,944.4 L197.0,943.5 L198.0,942.5 L199.0,941.4 L200.0,940.4 L201.0,939.6 L202.0,939.1 L203.0,938.9 L204.0,939.2 L205.0,939.8 L206.0,940.6 L207.0,941.5 L208.0,942.3 L209.0,943.0 L210.0,943.6 L211.0,944.1 L212.0,944.5 L213.0,944.8 L214.0,945.0 L215.0,945.1 L216.0,945.1 L217.0,945.0 L218.0,944.9 L219.0,944.7 L220.0,944.5 L221.0,944.3 L222.0,944.1 L223.0,943.8 L224.0,943.5 L225.0,943.3 L226.0,943.0 L227.0,942.6 L228.0,942.3 L229.0,942.0 L230.0,941.6 L231.0,941.3 L232.0,940.9 L233.0,940.5 L234.0,940.1 L235.0,939.7 L236.0,939.3 L237.0,938.8 L238.0,938.4 L239.0,938.0 L240.0,937.6 L241.0,937.3 L242.0,937.0 L243.0,936.7 L244.0,936.5 L245.0,936.4 L246.0,936.4 L247.0,936.4 L248.0,936.5 L249.0,936.8 L250.0,937.1 L251.0,937.4 L252.0,937.9 L253.0,938.4 L254.0,938.9 L255.0,939.5 L256.0,940.0 L257.0,940.6 L258.0,941.2 L259.0,941.7 L260.0,942.3 L261.0,942.8 L262.0,943.3 L263.0,943.8 L264.0,944.3 L265.0,944.8 L266.0,945.2 L267.0,945.6 L268.0,946.0 L269.0,946.3 L270.0,946.5 L271.0,946.7 L272.0,946.8 L273.0,946.8 L274.0,946.6 L275.0,946.4 L276.0,946.0 L277.0,945.5 L278.0,945.0 L279.0,944.5 L280.0,943.9 L281.0,943.4 L282.0,942.9 L283.0,942.5 L284.0,942.2 L285.0,942.1 L286.0,942.0 L287.0,942.2 L288.0,942.4 L289.0,942.8 L290.0,943.2 L291.0,943.7 L292.0,944.2 L293.0,944.7 L294.0,945.2 L295.0,945.7 L296.0,946.1 L297.0,946.5 L298.0,946.8 L299.0,947.0 L300.0,947.2 L301.0,947.4 L302.0,947.5 L303.0,947.6 L304.0,947.6 L305.0,947.6 L306.0,947.6 L307.0,947.5 L308.0,947.5 L309.0,947.4 L310.0,947.4 L311.0,947.3 L312.0,947.2 L313.0,947.2 L314.0,947.1 L315.0,947.0 L316.0,947.0 L317.0,946.9 L318.0,946.9 L319.0,946.8 L320.0,946.8 L321.0,946.8 L322.0,946.8 L323.0,946.8 L324.0,946.8 L325.0,946.8 L326.0,946.8 L327.0,946.8 L328.0,946.8 L329.0,946.8 L330.0,946.8 L331.0,946.8 L332.0,946.8 L333.0,946.8 L334.0,946.8 L335.0,946.7 L336.0,946.7 L337.0,946.6 L338.0,946.5 L339.0,946.4 L340.0,946.3 L341.0,946.1 L342.0,945.9 L343.0,945.7 L344.0,945.4 L345.0,945.1 L346.0,944.8 L347.0,944.4 L348.0,944.1 L349.0,943.9 L350.0,943.6 L351.0,943.4 L352.0,943.2 L353.0,943.1 L354.0,943.1 L355.0,943.1 L356.0,943.2 L357.0,943.3 L358.0,943.5 L359.0,943.8 L360.0,944.0 L361.0,944.3 L362.0,944.6 L363.0,944.9 L364.0,945.3 L365.0,945.6 L366.0,945.9 L367.0,946.2 L368.0,946.5 L369.0,946.8 L370.0,947.0 L371.0,947.2 L372.0,947.4 L373.0,947.5 L374.0,947.6 L375.0,947.7 L376.0,947.8 L377.0,947.8 L378.0,947.8 L379.0,947.8 L380.0,947.8 L381.0,947.8 L382.0,947.8 L383.0,947.8 L384.0,947.8 L385.0,947.8 L386.0,947.7 L387.0,947.7 L388.0,947.6 L389.0,947.5 L390.0,947.4 L391.0,947.3 L392.0,947.1 L393.0,947.0 L394.0,946.9 L395.0,946.7 L396.0,946.6 L397.0,946.4 L398.0,946.3 L399.0,946.1 L400.0,946.0 L401.0,945.8 L402.0,945.7 L403.0,945.5 L404.0,945.3 L405.0,945.2 L406.0,945.0 L407.0,944.8 L408.0,944.6 L409.0,944.4 L410.0,944.2 L411.0,944.0 L412.0,943.8 L413.0,943.5 L414.0,943.3 L415.0,943.0 L416.0,942.8 L417.0,942.5 L418.0,942.3 L419.0,942.1 L420.0,941.9 L421.0,941.7 L422.0,941.6 L423.0,941.5 L424.0,941.4 L425.0,941.4 L426.0,941.5 L427.0,941.6 L428.0,941.9 L429.0,942.1 L430.0,942.4 L431.0,942.8 L432.0,943.1 L433.0,943.5 L434.0,943.8 L435.0,944.1 L436.0,944.4 L437.0,944.7 L438.0,944.9 L439.0,945.1 L440.0,945.2 L441.0,945.4 L442.0,945.5 L443.0,945.6 L444.0,945.7 L445.0,945.8 L446.0,945.8 L447.0,945.8 L448.0,945.8 L449.0,945.7 L450.0,945.6 L451.0,945.4 L452.0,945.2 L453.0,944.9 L454.0,944.6 L455.0,944.1 L456.0,943.7 L457.0,943.1 L458.0,942.5 L459.0,941.7 L460.0,940.9 L461.0,940.0 L462.0,939.0 L463.0,938.0 L464.0,936.9 L465.0,935.7 L466.0,934.4 L467.0,933.1 L468.0,931.7 L469.0,930.2 L470.0,928.7 L471.0,927.1 L472.0,925.6 L473.0,924.1 L474.0,922.8 L475.0,921.6 L476.0,920.5 L477.0,919.6 L478.0,918.9 L479.0,918.4 L480.0,918.3 L481.0,918.3 L482.0,918.7 L483.0,919.2 L484.0,919.8 L485.0,920.5 L486.0,921.3 L487.0,922.1 L488.0,923.0 L489.0,923.8 L490.0,924.6 L491.0,925.4 L492.0,926.1 L493.0,926.7 L494.0,927.1 L495.0,927.2 L496.0,926.9 L497.0,926.3 L498.0,925.2 L499.0,923.7 L500.0,922.0 L501.0,920.1 L502.0,918.0 L503.0,915.8 L504.0,913.7 L505.0,911.7 L506.0,910.1 L507.0,908.8 L508.0,908.0 L509.0,907.7 L510.0,907.7 L511.0,908.1 L512.0,908.8 L513.0,909.7 L514.0,910.9 L515.0,912.4 L516.0,914.2 L517.0,916.1 L518.0,918.2 L519.0,920.3 L520.0,922.3 L521.0,924.2 L522.0,925.8 L523.0,927.3 L524.0,928.4 L525.0,929.3 L526.0,930.0 L527.0,930.3 L528.0,930.5 L529.0,930.4 L530.0,930.3 L531.0,930.3 L532.0,930.3 L533.0,930.5 L534.0,930.8 L535.0,931.3 L536.0,932.0 L537.0,932.8 L538.0,933.6 L539.0,934.6 L540.0,935.6 L541.0,936.7 L542.0,937.7 L543.0,938.7 L544.0,939.6 L545.0,940.3 L546.0,940.7 L547.0,940.9 L548.0,940.6 L549.0,940.0 L550.0,939.0 L551.0,937.8 L552.0,936.6 L553.0,935.5 L554.0,934.5 L555.0,933.7 L556.0,933.0 L557.0,932.5 L558.0,932.3 L559.0,932.2 L560.0,932.4 L561.0,932.8 L562.0,933.4 L563.0,934.2 L564.0,935.0 L565.0,936.0 L566.0,937.0 L567.0,938.0 L568.0,939.1 L569.0,940.2 L570.0,941.3 L571.0,942.3 L572.0,943.3 L573.0,944.2 L574.0,945.0 L575.0,945.6 L576.0,946.2 L577.0,946.7 L578.0,947.0 L579.0,947.3 L580.0,947.4 L581.0,947.6 L582.0,947.6 L583.0,947.7 L584.0,947.7 L585.0,947.6 L586.0,947.6 L587.0,947.5 L588.0,947.4 L589.0,947.3 L590.0,947.2 L591.0,947.0 L592.0,946.8 L593.0,946.6 L594.0,946.4 L595.0,946.1 L596.0,945.8 L597.0,945.5 L598.0,945.1 L599.0,944.8 L600.0,944.4 L601.0,944.1 L602.0,943.8 L603.0,943.6 L604.0,943.4 L605.0,943.4 L606.0,943.5 L607.0,943.7 L608.0,943.9 L609.0,944.3 L610.0,944.6 L611.0,945.0 L612.0,945.3 L613.0,945.5 L614.0,945.7 L615.0,945.7 L616.0,945.5 L617.0,945.2 L618.0,944.9 L619.0,944.5 L620.0,944.0 L621.0,943.5 L622.0,943.0 L623.0,942.5 L624.0,942.0 L625.0,941.6 L626.0,941.2 L627.0,940.8 L628.0,940.5 L629.0,940.2 L630.0,939.9 L631.0,939.8 L632.0,939.6 L633.0,939.6 L634.0,939.6 L635.0,939.7 L636.0,939.9 L637.0,940.2 L638.0,940.5 L639.0,940.9 L640.0,941.3 L641.0,941.8 L642.0,942.3 L643.0,942.9 L644.0,943.5 L645.0,944.1 L646.0,944.8 L647.0,945.3 L648.0,945.9 L649.0,946.3 L650.0,946.7 L651.0,947.0 L652.0,947.2 L653.0,947.4 L654.0,947.5 L655.0,947.6 L656.0,947.6 L657.0,947.7 L658.0,947.7 L659.0,947.7 L660.0,947.8 L661.0,947.8 L662.0,947.8 L663.0,947.8 L664.0,947.8 L665.0,947.8 L666.0,947.8 L667.0,947.8 L668.0,947.8 L669.0,947.8 L670.0,947.8 L671.0,947.8 L672.0,947.8 L673.0,947.8 L674.0,947.8 L675.0,947.8 L676.0,947.8 L677.0,947.8 L678.0,947.8 L679.0,947.8 L680.0,947.8 L681.0,947.8 L682.0,947.8" stroke="#0808e8"/>
<path d="M108.0,947.8 L109.0,947.8 L110.0,947.8 L111.0,947.8 L112.0,947.8 L113.0,947.8 L114.0,947.8 L115.0,947.8 L116.0,947.8 L117.0,947.8 L118.0,947.8 L119.0,947.8 L120.0,947.8 L121.0,947.8 L122.0,947.8 L123.0,947.8 L124.0,947.8 L125.0,947.8 L126.0,947.8 L127.0,947.8 L128.0,947.8 L129.0,947.8 L130.0,947.8 L131.0,947.8 L132.0,947.8 L133.0,947.8 L134.0,947.8 L135.0,947.8 L136.0,947.8 L137.0,947.8 L138.0,947.8 L139.0,947.8 L140.0,947.8 L141.0,947.8 L142.0,947.8 L143.0,947.8 L144.0,947.8 L145.0,947.8 L146.0,947.8 L147.0,947.8 L148.0,947.8 L149.0,947.8 L150.0,947.8 L151.0,947.8 L152.0,947.8 L153.0,947.8 L154.0,947.8 L155.0,947.8 L156.0,947.8 L157.0,947.8 L158.0,947.8 L159.0,947.7 L160.0,947.7 L161.0,947.7 L162.0,947.7 L163.0,947.7 L164.0,947.7 L165.0,947.7 L166.0,947.6 L167.0,947.6 L168.0,947.6 L169.0,947.6 L170.0,947.6 L171.0,947.5 L172.0,947.5 L173.0,947.5 L174.0,947.4 L175.0,947.4 L176.0,947.4 L177.0,947.3 L178.0,947.3 L179.0,947.2 L180.0,947.2 L181.0,947.1 L182.0,947.1 L183.0,947.0 L184.0,947.0 L185.0,946.9 L186.0,946.9 L187.0,946.8 L188.0,946.7 L189.0,946.7 L190.0,946.6 L191.0,946.6 L192.0,946.5 L193.0,946.5 L194.0,946.5 L195.0,946.4 L196.0,946.4 L197.0,946.4 L198.0,946.3 L199.0,946.3 L200.0,946.3 L201.0,946.3 L202.0,946.3 L203.0,946.3 L204.0,946.3 L205.0,946.3 L206.0,946.4 L207.0,946.4 L208.0,946.4 L209.0,946.5 L210.0,946.5 L211.0,946.5 L212.0,946.5 L213.0,946.5 L214.0,946.5 L215.0,946.5 L216.0,946.4 L217.0,946.3 L218.0,946.2 L219.0,946.0 L220.0,945.8 L221.0,945.6 L222.0,945.3 L223.0,945.0 L224.0,944.6 L225.0,944.3 L226.0,943.9 L227.0,943.5 L228.0,943.2 L229.0,942.8 L230.0,942.4 L231.0,942.0 L232.0,941.6 L233.0,941.2 L234.0,940.7 L235.0,940.2 L236.0,939.6 L237.0,938.9 L238.0,938.2 L239.0,937.3 L240.0,936.3 L241.0,935.2 L242.0,934.0 L243.0,932.7 L244.0,931.4 L245.0,930.1 L246.0,928.8 L247.0,927.6 L248.0,926.4 L249.0,925.2 L250.0,924.1 L251.0,923.0 L252.0,922.0 L253.0,921.1 L254.0,920.3 L255.0,919.7 L256.0,919.2 L257.0,919.0 L258.0,919.0 L259.0,919.3 L260.0,919.8 L261.0,920.6 L262.0,921.5 L263.0,922.4 L264.0,923.1 L265.0,923.6 L266.0,923.7 L267.0,923.3 L268.0,922.4 L269.0,920.8 L270.0,918.6 L271.0,915.8 L272.0,912.5 L273.0,908.7 L274.0,904.4 L275.0,899.7 L276.0,895.0 L277.0,890.5 L278.0,886.4 L279.0,883.1 L280.0,880.7 L281.0,879.2 L282.0,878.8 L283.0,879.4 L284.0,881.0 L285.0,883.6 L286.0,886.9 L287.0,890.9 L288.0,895.3 L289.0,900.0 L290.0,904.7 L291.0,909.4 L292.0,913.7 L293.0,917.8 L294.0,921.5 L295.0,924.8 L296.0,927.7 L297.0,930.2 L298.0,932.2 L299.0,933.8 L300.0,934.7 L301.0,935.2 L302.0,935.1 L303.0,934.7 L304.0,934.0 L305.0,933.1 L306.0,932.3 L307.0,931.4 L308.0,930.5 L309.0,929.7 L310.0,929.0 L311.0,928.5 L312.0,928.2 L313.0,928.1 L314.0,928.2 L315.0,928.5 L316.0,928.9 L317.0,929.3 L318.0,929.8 L319.0,930.3 L320.0,930.8 L321.0,931.3 L322.0,931.7 L323.0,932.0 L324.0,932.4 L325.0,932.7 L326.0,933.0 L327.0,933.3 L328.0,933.6 L329.0,934.0 L330.0,934.4 L331.0,934.8 L332.0,935.3 L333.0,935.8 L334.0,936.2 L335.0,936.7 L336.0,937.0 L337.0,937.3 L338.0,937.4 L339.0,937.3 L340.0,936.6 L341.0,935.5 L342.0,933.6 L343.0,931.0 L344.0,927.4 L345.0,923.0 L346.0,917.8 L347.0,912.3 L348.0,906.8 L349.0,901.6 L350.0,896.8 L351.0,892.5 L352.0,888.9 L353.0,885.9 L354.0,883.7 L355.0,882.5 L356.0,882.4 L357.0,883.4 L358.0,885.4 L359.0,888.4 L360.0,892.2 L361.0,896.7 L362.0,901.8 L363.0,907.1 L364.0,912.5 L365.0,917.5 L366.0,921.9 L367.0,925.4 L368.0,928.1 L369.0,929.9 L370.0,930.8 L371.0,930.9 L372.0,930.4 L373.0,929.3 L374.0,928.0 L375.0,926.5 L376.0,924.9 L377.0,923.4 L378.0,921.9 L379.0,920.6 L380.0,919.4 L381.0,918.3 L382.0,917.4 L383.0,916.7 L384.0,916.4 L385.0,916.3 L386.0,916.6 L387.0,917.1 L388.0,917.8 L389.0,918.7 L390.0,919.7 L391.0,920.8 L392.0,922.0 L393.0,923.2 L394.0,924.5 L395.0,925.9 L396.0,927.2 L397.0,928.6 L398.0,929.9 L399.0,931.2 L400.0,932.4 L401.0,933.4 L402.0,934.3 L403.0,934.9 L404.0,935.2 L405.0,935.0 L406.0,934.2 L407.0,932.7 L408.0,930.5 L409.0,927.6 L410.0,924.0 L411.0,919.7 L412.0,915.0 L413.0,909.8 L414.0,904.5 L415.0,899.0 L416.0,893.5 L417.0,888.1 L418.0,882.9 L419.0,877.8 L420.0,872.9 L421.0,868.2 L422.0,863.7 L423.0,859.5 L424.0,855.6 L425.0,852.1 L426.0,849.1 L427.0,846.7 L428.0,845.1 L429.0,844.4 L430.0,844.5 L431.0,845.4 L432.0,847.1 L433.0,849.2 L434.0,851.8 L435.0,854.5 L436.0,857.4 L437.0,860.4 L438.0,863.4 L439.0,866.3 L440.0,869.1 L441.0,871.6 L442.0,873.7 L443.0,875.4 L444.0,876.3 L445.0,876.2 L446.0,875.1 L447.0,873.0 L448.0,870.1 L449.0,866.7 L450.0,863.0 L451.0,859.3 L452.0,855.5 L453.0,851.7 L454.0,847.8 L455.0,843.9 L456.0,839.8 L457.0,835.7 L458.0,831.4 L459.0,827.0 L460.0,822.6 L461.0,818.1 L462.0,813.7 L463.0,809.4 L464.0,805.3 L465.0,801.4 L466.0,797.8 L467.0,794.8 L468.0,792.2 L469.0,790.2 L470.0,788.6 L471.0,787.1 L472.0,785.6 L473.0,783.8 L474.0,781.8 L475.0,779.5 L476.0,777.1 L477.0,774.6 L478.0,772.3 L479.0,770.3 L480.0,768.8 L481.0,768.0 L482.0,768.2 L483.0,769.4 L484.0,771.6 L485.0,774.5 L486.0,778.0 L487.0,781.8 L488.0,785.9 L489.0,790.1 L490.0,794.3 L491.0,798.3 L492.0,801.8 L493.0,804.6 L494.0,806.2 L495.0,806.3 L496.0,804.5 L497.0,800.9 L498.0,795.5 L499.0,788.7 L500.0,780.9 L501.0,772.4 L502.0,763.6 L503.0,754.6 L504.0,745.7 L505.0,737.1 L506.0,728.9 L507.0,721.6 L508.0,715.5 L509.0,710.7 L510.0,707.3 L511.0,705.1 L512.0,704.0 L513.0,704.0 L514.0,705.0 L515.0,707.2 L516.0,710.7 L517.0,715.8 L518.0,722.3 L519.0,730.4 L520.0,739.8 L521.0,750.4 L522.0,761.9 L523.0,774.0 L524.0,786.4 L525.0,798.5 L526.0,809.9 L527.0,820.2 L528.0,829.0 L529.0,835.9 L530.0,840.3 L531.0,841.8 L532.0,840.7 L533.0,837.6 L534.0,833.1 L535.0,828.1 L536.0,823.0 L537.0,818.1 L538.0,813.6 L539.0,809.5 L540.0,805.9 L541.0,803.0 L542.0,800.8 L543.0,799.4 L544.0,798.8 L545.0,799.0 L546.0,799.8 L547.0,801.2 L548.0,802.8 L549.0,804.8 L550.0,806.9 L551.0,809.1 L552.0,811.5 L553.0,813.9 L554.0,816.3 L555.0,818.6 L556.0,820.7 L557.0,822.4 L558.0,823.7 L559.0,824.2 L560.0,823.8 L561.0,822.4 L562.0,820.0 L563.0,817.0 L564.0,813.5 L565.0,810.0 L566.0,806.6 L567.0,803.4 L568.0,800.6 L569.0,798.2 L570.0,796.6 L571.0,796.2 L572.0,797.3 L573.0,800.2 L574.0,804.9 L575.0,811.2 L576.0,818.8 L577.0,827.5 L578.0,837.0 L579.0,847.2 L580.0,857.6 L581.0,867.6 L582.0,876.7 L583.0,884.3 L584.0,890.1 L585.0,894.1 L586.0,896.6 L587.0,897.8 L588.0,897.8 L589.0,896.9 L590.0,895.2 L591.0,892.6 L592.0,889.3 L593.0,885.2 L594.0,880.5 L595.0,875.1 L596.0,869.3 L597.0,862.9 L598.0,856.0 L599.0,848.6 L600.0,840.8 L601.0,832.7 L602.0,824.3 L603.0,815.6 L604.0,806.8 L605.0,798.1 L606.0,790.0 L607.0,783.0 L608.0,777.4 L609.0,773.8 L610.0,772.2 L611.0,773.1 L612.0,776.4 L613.0,782.1 L614.0,790.0 L615.0,799.7 L616.0,810.7 L617.0,822.5 L618.0,834.8 L619.0,846.8 L620.0,857.6 L621.0,865.7 L622.0,869.6 L623.0,868.5 L624.0,862.9 L625.0,853.9 L626.0,842.9 L627.0,831.2 L628.0,819.8 L629.0,809.0 L630.0,799.3 L631.0,791.2 L632.0,784.8 L633.0,780.4 L634.0,777.8 L635.0,777.2 L636.0,779.1 L637.0,784.3 L638.0,793.3 L639.0,805.9 L640.0,821.0 L641.0,837.1 L642.0,853.1 L643.0,868.5 L644.0,883.1 L645.0,896.6 L646.0,908.6 L647.0,918.4 L648.0,925.9 L649.0,931.4 L650.0,935.5 L651.0,938.7 L652.0,941.4 L653.0,943.6 L654.0,945.3 L655.0,946.4 L656.0,947.0 L657.0,947.4 L658.0,947.6 L659.0,947.6 L660.0,947.6 L661.0,947.6 L662.0,947.6 L663.0,947.6 L664.0,947.6 L665.0,947.6 L666.0,947.6 L667.0,947.7 L668.0,947.7 L669.0,947.8 L670.0,947.8 L671.0,947.8 L672.0,947.8 L673.0,947.8 L674.0,947.8 L675.0,947.8 L676.0,947.8 L677.0,947.8 L678.0,947.8 L679.0,947.8 L680.0,947.8 L681.0,947.8 L682.0,947.8" stroke="#f01010"/>
</g>
<text x="95.2" y="673.5" font-size="32" text-anchor="end">0.0</text>
<text x="95.2" y="590.9" font-size="32" text-anchor="end">0.2</text>
<text x="95.2" y="508.3" font-size="32" text-anchor="end">0.4</text>
<text x="95.2" y="425.7" font-size="32" text-anchor="end">0.6</text>
<text x="95.2" y="956.1" font-size="32" text-anchor="end">0.0</text>
<text x="95.2" y="892.2" font-size="32" text-anchor="end">0.2</text>
<text x="95.2" y="828.3" font-size="32" text-anchor="end">0.4</text>
<text x="95.2" y="764.3" font-size="32" text-anchor="end">0.6</text>
<text x="95.2" y="700.4" font-size="32" text-anchor="end">0.8</text>
<text x="202.6" y="984.8" font-size="32" text-anchor="middle">-12</text>
<text x="457.4" y="984.8" font-size="32" text-anchor="middle">-4</text>
<text x="504.4" y="980" font-size="31.7">Fermi Level</text>
<text transform="translate(297.7,1027.8) scale(1,1.03)" font-size="37.6">Energy (eV)</text>
<text transform="translate(35.8,807.6) rotate(-90)" font-size="38.1">Density of State</text>
<text x="223.6" y="524.4" font-size="30">B<tspan dx="1.5">-</tspan><tspan font-style="italic" dx="5">s</tspan></text>
<text x="403.4" y="410.6" font-size="30">B<tspan dx="2.3">-</tspan><tspan font-style="italic" dx="2.7">p</tspan></text>
<text x="442.6" y="762.6" font-size="30">Zr<tspan dx="2.5">-</tspan><tspan font-style="italic" dx="4.5">d</tspan></text>
</svg></body></html>
